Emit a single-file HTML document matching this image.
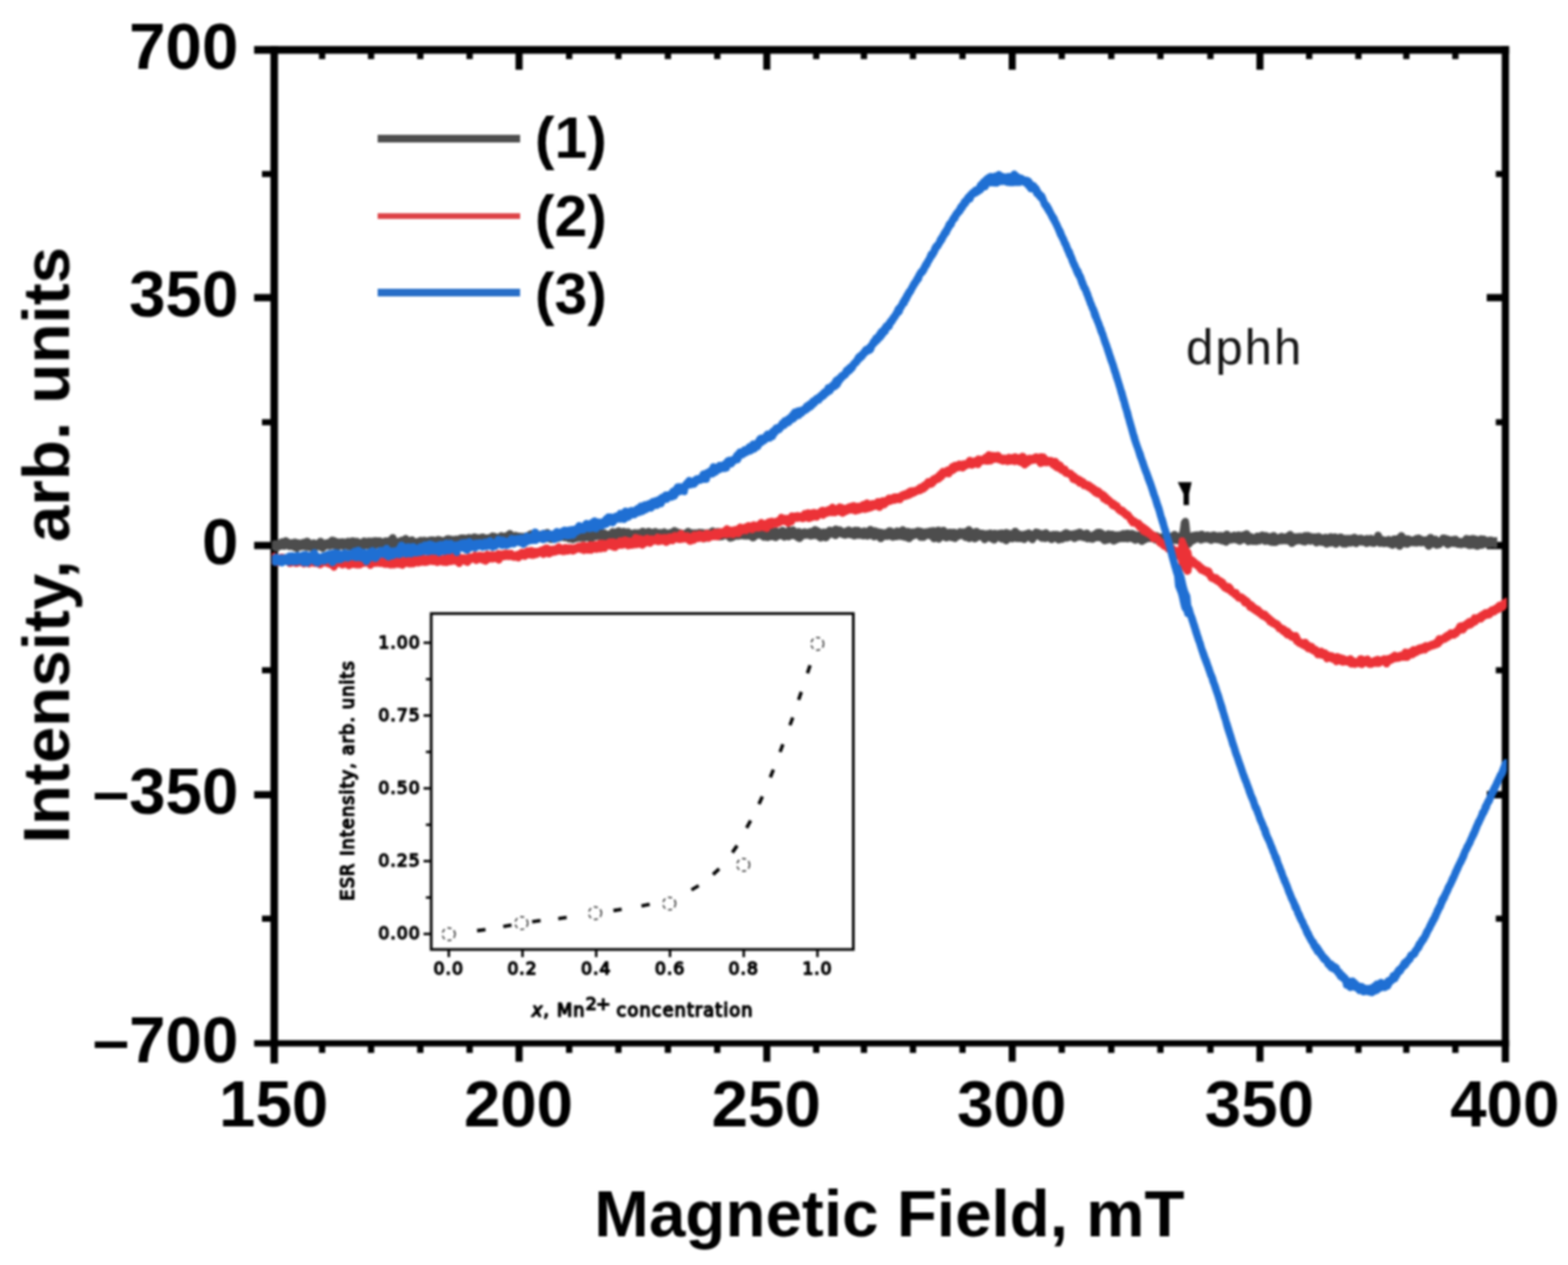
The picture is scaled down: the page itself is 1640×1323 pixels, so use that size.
<!DOCTYPE html>
<html lang="en">
<head>
<meta charset="utf-8">
<title>ESR spectra: Intensity vs Magnetic Field</title>
<style>
html,body{margin:0;padding:0;background:#fff;}
body{width:1640px;height:1323px;overflow:hidden;}
svg{display:block;}
</style>
</head>
<body>
<svg width="1640" height="1323" viewBox="0 0 1640 1323" role="img" aria-label="ESR spectra: intensity versus magnetic field">
<rect width="1640" height="1323" fill="#fff"/>
<defs><filter id="soft" x="0" y="0" width="1640" height="1323" filterUnits="userSpaceOnUse" color-interpolation-filters="sRGB"><feGaussianBlur stdDeviation="0.8"/></filter></defs>
<g filter="url(#soft)">
<g fill="#000">
<rect x="265.8" y="48.15" width="1312.5" height="8.1"/>
<rect x="265.8" y="1087.90" width="1312.5" height="6.6"/>
<rect x="282.85" y="48.2" width="7.9" height="1064.0"/>
<rect x="1570.70" y="48.2" width="7.6" height="1062.8"/>
<rect x="333.6" y="52.2" width="6.6" height="9.6"/>
<rect x="333.6" y="1091.2" width="6.6" height="10.0"/>
<rect x="384.8" y="52.2" width="6.6" height="9.6"/>
<rect x="384.8" y="1091.2" width="6.6" height="10.0"/>
<rect x="436.3" y="52.2" width="6.6" height="9.6"/>
<rect x="436.3" y="1091.2" width="6.6" height="10.0"/>
<rect x="487.9" y="52.2" width="6.6" height="9.6"/>
<rect x="487.9" y="1091.2" width="6.6" height="10.0"/>
<rect x="539.2" y="52.2" width="7.4" height="20.7"/>
<rect x="539.2" y="1091.2" width="7.4" height="19.2"/>
<rect x="592.0" y="52.2" width="6.6" height="9.6"/>
<rect x="592.0" y="1091.2" width="6.6" height="10.0"/>
<rect x="643.5" y="52.2" width="6.6" height="9.6"/>
<rect x="643.5" y="1091.2" width="6.6" height="10.0"/>
<rect x="695.3" y="52.2" width="6.6" height="9.6"/>
<rect x="695.3" y="1091.2" width="6.6" height="10.0"/>
<rect x="746.9" y="52.2" width="6.6" height="9.6"/>
<rect x="746.9" y="1091.2" width="6.6" height="10.0"/>
<rect x="798.3" y="52.2" width="7.4" height="20.7"/>
<rect x="798.3" y="1091.2" width="7.4" height="19.2"/>
<rect x="850.4" y="52.2" width="6.6" height="9.6"/>
<rect x="850.4" y="1091.2" width="6.6" height="10.0"/>
<rect x="900.3" y="52.2" width="6.6" height="9.6"/>
<rect x="900.3" y="1091.2" width="6.6" height="10.0"/>
<rect x="951.6" y="52.2" width="6.6" height="9.6"/>
<rect x="951.6" y="1091.2" width="6.6" height="10.0"/>
<rect x="1003.4" y="52.2" width="6.6" height="9.6"/>
<rect x="1003.4" y="1091.2" width="6.6" height="10.0"/>
<rect x="1055.0" y="52.2" width="7.4" height="20.7"/>
<rect x="1055.0" y="1091.2" width="7.4" height="19.2"/>
<rect x="1107.2" y="52.2" width="6.6" height="9.6"/>
<rect x="1107.2" y="1091.2" width="6.6" height="10.0"/>
<rect x="1159.0" y="52.2" width="6.6" height="9.6"/>
<rect x="1159.0" y="1091.2" width="6.6" height="10.0"/>
<rect x="1210.4" y="52.2" width="6.6" height="9.6"/>
<rect x="1210.4" y="1091.2" width="6.6" height="10.0"/>
<rect x="1262.7" y="52.2" width="6.6" height="9.6"/>
<rect x="1262.7" y="1091.2" width="6.6" height="10.0"/>
<rect x="1314.1" y="52.2" width="7.4" height="20.7"/>
<rect x="1314.1" y="1091.2" width="7.4" height="19.2"/>
<rect x="1366.0" y="52.2" width="6.6" height="9.6"/>
<rect x="1366.0" y="1091.2" width="6.6" height="10.0"/>
<rect x="1417.5" y="52.2" width="6.6" height="9.6"/>
<rect x="1417.5" y="1091.2" width="6.6" height="10.0"/>
<rect x="1467.6" y="52.2" width="6.6" height="9.6"/>
<rect x="1467.6" y="1091.2" width="6.6" height="10.0"/>
<rect x="1518.9" y="52.2" width="6.6" height="9.6"/>
<rect x="1518.9" y="1091.2" width="6.6" height="10.0"/>
<rect x="274.0" y="178.8" width="12.8" height="6.4"/>
<rect x="1564.5" y="178.8" width="10.0" height="6.4"/>
<rect x="265.8" y="307.5" width="21.0" height="7.6"/>
<rect x="1555.0" y="307.5" width="19.5" height="7.6"/>
<rect x="274.0" y="438.4" width="12.8" height="6.4"/>
<rect x="1564.5" y="438.4" width="10.0" height="6.4"/>
<rect x="265.8" y="566.7" width="21.0" height="7.6"/>
<rect x="1555.0" y="566.7" width="19.5" height="7.6"/>
<rect x="274.0" y="697.8" width="12.8" height="6.4"/>
<rect x="1564.5" y="697.8" width="10.0" height="6.4"/>
<rect x="265.8" y="827.4" width="21.0" height="7.6"/>
<rect x="1555.0" y="827.4" width="19.5" height="7.6"/>
<rect x="274.0" y="957.6" width="12.8" height="6.4"/>
<rect x="1564.5" y="957.6" width="10.0" height="6.4"/>
</g>
<g font-family="'Liberation Sans', sans-serif" font-weight="bold" font-size="68.5" fill="#000">
<text x="249.3" y="71.8" text-anchor="end">700</text>
<text x="249.3" y="330.9" text-anchor="end">350</text>
<text x="249.3" y="590.1" text-anchor="end">0</text>
<text x="249.3" y="850.8" text-anchor="end">–350</text>
<text x="249.3" y="1110.8" text-anchor="end">–700</text>
<text x="286.2" y="1177.8" text-anchor="middle">150</text>
<text x="542.3" y="1177.8" text-anchor="middle">200</text>
<text x="801.4" y="1177.8" text-anchor="middle">250</text>
<text x="1058.1" y="1177.8" text-anchor="middle">300</text>
<text x="1317.2" y="1177.8" text-anchor="middle">350</text>
<text x="1573.9" y="1177.8" text-anchor="middle">400</text>
<text x="930.3" y="1292.5" text-anchor="middle" font-size="68.6">Magnetic Field, mT</text>
<text transform="translate(72.2,570.2) rotate(-90)" text-anchor="middle" font-size="68.6">Intensity, arb. units</text>
<text x="559.5" y="165.4" font-size="61.5">(1)</text>
<text x="559.5" y="246.6" font-size="61.5">(2)</text>
<text x="559.5" y="327.8" font-size="61.5">(3)</text>
</g>
<text x="1240.6" y="380.6" font-family="'Liberation Sans', sans-serif" font-size="51.3" letter-spacing="2.1" fill="#141414">dphh</text>
<g shape-rendering="crispEdges">
<rect x="394.6" y="141.2" width="149.4" height="7.5" fill="#4d4d4d"/>
<rect x="394.6" y="222.6" width="149.4" height="6" fill="#dd4448"/>
<rect x="394.6" y="302.2" width="149.4" height="7.5" fill="#276ec8"/>
</g>
<rect x="451.0" y="641.7" width="441.5" height="351.29999999999995" fill="#fff" stroke="#000" stroke-width="2.8"/>
<g stroke="#000" stroke-width="2.6">
<line x1="469.4" y1="993.0" x2="469.4" y2="1001.0"/>
<line x1="546.5" y1="993.0" x2="546.5" y2="1001.0"/>
<line x1="623.6" y1="993.0" x2="623.6" y2="1001.0"/>
<line x1="700.8" y1="993.0" x2="700.8" y2="1001.0"/>
<line x1="777.9" y1="993.0" x2="777.9" y2="1001.0"/>
<line x1="855.0" y1="993.0" x2="855.0" y2="1001.0"/>
<line x1="443.0" y1="976.8" x2="451.0" y2="976.8"/>
<line x1="445.5" y1="938.7" x2="451.0" y2="938.7"/>
<line x1="443.0" y1="900.6" x2="451.0" y2="900.6"/>
<line x1="445.5" y1="862.6" x2="451.0" y2="862.6"/>
<line x1="443.0" y1="824.5" x2="451.0" y2="824.5"/>
<line x1="445.5" y1="786.4" x2="451.0" y2="786.4"/>
<line x1="443.0" y1="748.3" x2="451.0" y2="748.3"/>
<line x1="445.5" y1="710.3" x2="451.0" y2="710.3"/>
<line x1="443.0" y1="672.2" x2="451.0" y2="672.2"/>
</g>
<g font-family="'DejaVu Sans', sans-serif" font-size="18.0" fill="#000" stroke="#000" stroke-width="1.5" stroke-linejoin="round" letter-spacing="1.0">
<text x="469.4" y="1019.2" text-anchor="middle">0.0</text>
<text x="546.5" y="1019.2" text-anchor="middle">0.2</text>
<text x="623.6" y="1019.2" text-anchor="middle">0.4</text>
<text x="700.8" y="1019.2" text-anchor="middle">0.6</text>
<text x="777.9" y="1019.2" text-anchor="middle">0.8</text>
<text x="855.0" y="1019.2" text-anchor="middle">1.0</text>
<text x="439.9" y="982.1" text-anchor="end">0.00</text>
<text x="439.9" y="905.9" text-anchor="end">0.25</text>
<text x="439.9" y="829.8" text-anchor="end">0.50</text>
<text x="439.9" y="753.6" text-anchor="end">0.75</text>
<text x="439.9" y="677.5" text-anchor="end">1.00</text>
<text x="672.2" y="1063.4" text-anchor="middle" font-size="18.6" letter-spacing="1.12"><tspan font-style="italic">x</tspan>, Mn<tspan dy="-7.4" font-size="18.4" letter-spacing="-0.9">2+</tspan><tspan dy="7.4"> concentration</tspan></text>
<text transform="translate(370.0,816.2) rotate(-90)" text-anchor="middle" font-size="18.6" letter-spacing="1.12">ESR Intensity, arb. units</text>
</g>
<g stroke="#000" stroke-width="3.6" fill="none">
<line x1="499.0" y1="973.4" x2="507.8" y2="972.2"/>
<line x1="526.4" y1="969.1" x2="535.0" y2="967.5"/>
<line x1="556.6" y1="964.0" x2="565.4" y2="962.8"/>
<line x1="583.9" y1="960.7" x2="592.7" y2="959.5"/>
<line x1="641.6" y1="952.4" x2="650.2" y2="951.0"/>
<line x1="670.9" y1="947.6" x2="679.5" y2="945.8"/>
<line x1="723.2" y1="930.7" x2="730.8" y2="926.3"/>
<line x1="745.8" y1="914.6" x2="752.2" y2="908.6"/>
<line x1="766.0" y1="891.6" x2="771.0" y2="884.4"/>
<line x1="780.9" y1="865.9" x2="785.1" y2="858.1"/>
<line x1="793.8" y1="840.9" x2="797.4" y2="832.9"/>
<line x1="805.7" y1="813.0" x2="808.9" y2="804.8"/>
<line x1="815.9" y1="786.5" x2="818.9" y2="778.3"/>
<line x1="826.2" y1="758.5" x2="829.2" y2="750.3"/>
<line x1="835.3" y1="732.0" x2="838.1" y2="723.6"/>
<line x1="844.5" y1="704.1" x2="847.3" y2="695.7"/>
</g>
<g stroke="#333" stroke-width="1.5" fill="none" stroke-dasharray="4.2 3.2">
<circle cx="469.3" cy="977" r="6.6"/>
<circle cx="545.4" cy="965.4" r="6.6"/>
<circle cx="622.4" cy="955" r="6.6"/>
<circle cx="700" cy="945" r="6.6"/>
<circle cx="777.4" cy="904.5" r="6.6"/>
<circle cx="854.9" cy="673.3" r="6.6"/>
</g>
<clipPath id="plotclip"><rect x="284.3" y="52.2" width="1292.3" height="1039.0"/></clipPath>
<g stroke="none" clip-path="url(#plotclip)">
<path fill="#4d4d4d" d="M283,567.3 284,566.6 285,565.7 286,565.2 287,565.0 288,565.0 289,565.1 290,565.2 291,564.7 292,564.1 293,563.4 294,563.1 295,563.0 296,562.9 297,562.2 298,561.9 299,561.8 300,562.0 301,562.5 302,563.3 303,563.8 304,564.3 305,564.1 306,563.7 307,563.4 308,563.2 309,563.3 310,563.6 311,564.0 312,564.0 313,564.3 314,564.5 315,564.3 316,563.8 317,563.6 318,563.6 319,563.0 320,562.5 321,562.3 322,562.4 323,562.7 324,563.3 325,564.6 326,564.8 327,564.3 328,564.1 329,564.2 330,564.5 331,564.9 332,564.1 333,563.1 334,562.6 335,562.4 336,562.5 337,562.8 338,563.4 339,564.5 340,564.4 341,564.1 342,564.0 343,563.8 344,562.9 345,561.9 346,561.4 347,561.2 348,561.3 349,561.5 350,561.7 351,562.1 352,562.8 353,563.0 354,563.3 355,563.2 356,563.3 357,563.1 358,562.9 359,562.9 360,563.2 361,563.6 362,562.9 363,562.5 364,562.5 365,562.6 366,562.8 367,562.3 368,562.0 369,561.9 370,562.1 371,562.5 372,562.6 373,562.4 374,562.4 375,562.7 376,563.4 377,563.9 378,563.2 379,562.5 380,562.2 381,562.1 382,562.3 383,562.7 384,562.6 385,562.2 386,562.2 387,562.3 388,562.5 389,562.3 390,562.3 391,561.9 392,561.7 393,561.7 394,562.0 395,562.0 396,561.9 397,561.9 398,562.0 399,562.5 400,563.0 401,562.7 402,562.2 403,562.0 404,562.1 405,562.3 406,561.9 407,560.9 408,559.7 409,559.0 410,558.7 411,558.6 412,558.8 413,559.2 414,560.1 415,562.5 416,562.7 417,562.4 418,561.7 419,561.4 420,561.3 421,561.2 422,560.3 423,559.8 424,559.6 425,559.6 426,559.9 427,560.6 428,561.9 429,561.3 430,561.0 431,560.9 432,561.1 433,561.6 434,562.5 435,563.3 436,562.8 437,562.4 438,562.1 439,561.6 440,561.4 441,561.5 442,561.7 443,561.4 444,561.3 445,561.5 446,561.9 447,562.0 448,561.5 449,561.3 450,561.3 451,561.0 452,560.9 453,561.1 454,561.3 455,561.6 456,561.2 457,560.8 458,560.6 459,560.6 460,560.9 461,561.1 462,561.4 463,561.8 464,561.8 465,560.9 466,560.2 467,559.9 468,559.7 469,559.7 470,559.8 471,560.3 472,560.3 473,560.6 474,560.7 475,560.4 476,560.2 477,560.2 478,560.3 479,560.3 480,559.6 481,559.2 482,559.1 483,559.1 484,559.0 485,558.9 486,559.1 487,559.6 488,559.2 489,558.7 490,558.5 491,558.5 492,558.8 493,559.1 494,558.5 495,558.0 496,557.8 497,557.9 498,558.2 499,558.6 500,558.8 501,559.0 502,558.5 503,558.3 504,558.0 505,557.9 506,558.1 507,558.5 508,559.0 509,559.1 510,559.1 511,558.6 512,558.4 513,557.5 514,557.0 515,556.8 516,556.9 517,557.2 518,557.3 519,557.8 520,558.3 521,558.2 522,557.3 523,556.8 524,556.6 525,556.6 526,556.9 527,557.3 528,556.9 529,556.8 530,556.0 531,555.0 532,554.5 533,554.3 534,554.4 535,554.7 536,555.3 537,556.7 538,556.5 539,556.3 540,556.3 541,556.7 542,557.0 543,557.1 544,557.2 545,557.2 546,557.3 547,557.5 548,557.6 549,557.1 550,556.9 551,556.4 552,556.0 553,555.2 554,554.7 555,554.5 556,554.5 557,554.8 558,555.5 559,556.2 560,556.0 561,555.9 562,555.4 563,555.2 564,555.2 565,555.6 566,555.3 567,554.8 568,554.6 569,554.6 570,553.9 571,553.4 572,553.2 573,553.3 574,553.6 575,554.2 576,555.5 577,555.4 578,555.2 579,555.2 580,555.5 581,555.5 582,555.6 583,555.4 584,554.7 585,554.4 586,554.3 587,554.0 588,553.3 589,553.0 590,552.9 591,552.8 592,552.3 593,552.1 594,552.1 595,552.4 596,553.1 597,554.4 598,555.8 599,556.0 600,556.0 601,555.3 602,554.9 603,554.7 604,554.2 605,554.0 606,554.1 607,554.4 608,554.4 609,554.7 610,555.4 611,555.2 612,555.2 613,554.9 614,554.7 615,554.7 616,554.5 617,554.6 618,554.9 619,554.6 620,554.0 621,553.3 622,553.0 623,552.9 624,553.1 625,553.5 626,554.1 627,553.9 628,553.8 629,553.9 630,553.9 631,553.6 632,553.5 633,553.7 634,554.1 635,555.0 636,554.9 637,554.9 638,553.4 639,552.8 640,552.4 641,552.3 642,552.5 643,553.0 644,552.6 645,551.9 646,551.5 647,551.5 648,551.6 649,552.1 650,552.4 651,552.3 652,552.1 653,552.1 654,552.4 655,552.8 656,552.5 657,552.4 658,552.6 659,553.0 660,553.9 661,554.3 662,553.8 663,553.5 664,553.4 665,553.6 666,553.8 667,553.6 668,553.6 669,553.5 670,552.6 671,552.1 672,551.9 673,551.9 674,552.2 675,552.9 676,552.7 677,552.2 678,552.0 679,552.0 680,552.3 681,553.0 682,553.0 683,552.9 684,552.4 685,552.2 686,552.3 687,552.6 688,553.2 689,553.6 690,553.3 691,553.2 692,553.4 693,553.0 694,552.6 695,552.6 696,552.7 697,553.2 698,554.1 699,553.7 700,553.5 701,553.2 702,552.9 703,552.0 704,551.5 705,551.3 706,551.3 707,551.6 708,552.2 709,552.4 710,552.9 711,553.6 712,553.5 713,553.7 714,554.2 715,554.2 716,554.2 717,553.1 718,552.4 719,552.1 720,552.0 721,552.2 722,552.7 723,553.4 724,553.4 725,553.7 726,553.7 727,553.6 728,553.8 729,553.8 730,553.3 731,553.1 732,553.1 733,553.3 734,553.3 735,553.3 736,553.5 737,553.8 738,553.9 739,553.6 740,553.5 741,553.7 742,553.2 743,552.2 744,551.8 745,551.6 746,551.6 747,551.9 748,552.6 749,552.4 750,552.2 751,552.3 752,552.6 753,552.9 754,552.9 755,553.2 756,553.7 757,553.7 758,553.6 759,553.5 760,553.3 761,553.4 762,553.7 763,553.7 764,552.9 765,552.2 766,551.8 767,551.8 768,551.9 769,551.9 770,551.3 771,550.9 772,550.8 773,551.0 774,551.5 775,552.1 776,551.9 777,551.9 778,552.2 779,552.9 780,554.1 781,553.6 782,553.1 783,552.9 784,553.0 785,553.3 786,553.4 787,553.7 788,553.8 789,553.5 790,552.6 791,551.7 792,551.2 793,551.0 794,551.1 795,551.4 796,551.7 797,551.4 798,551.4 799,551.5 800,552.0 801,552.8 802,553.1 803,553.1 804,552.5 805,551.6 806,551.1 807,550.9 808,550.9 809,551.2 810,551.7 811,551.7 812,552.0 813,552.1 814,552.4 815,552.6 816,551.7 817,551.2 818,551.0 819,551.0 820,551.3 821,552.0 822,552.5 823,551.5 824,551.0 825,550.8 826,550.9 827,551.2 828,550.7 829,550.5 830,550.5 831,550.8 832,551.5 833,552.8 834,552.5 835,552.3 836,552.3 837,552.6 838,553.3 839,553.2 840,552.7 841,552.5 842,552.5 843,552.8 844,553.3 845,552.9 846,552.4 847,552.2 848,552.2 849,551.9 850,550.9 851,550.4 852,550.2 853,550.3 854,550.6 855,551.1 856,551.6 857,551.9 858,552.6 859,553.4 860,552.9 861,552.7 862,552.7 863,552.9 864,552.9 865,551.8 866,551.2 867,550.8 868,550.7 869,550.9 870,551.4 871,550.9 872,550.3 873,549.8 874,549.6 875,549.7 876,550.0 877,550.6 878,550.4 879,550.5 880,550.8 881,551.4 882,552.3 883,552.5 884,551.8 885,551.5 886,551.0 887,550.6 888,550.6 889,550.7 890,551.2 891,551.9 892,551.6 893,551.1 894,550.9 895,550.8 896,550.9 897,550.9 898,550.9 899,551.2 900,551.9 901,552.5 902,552.0 903,551.7 904,551.6 905,551.8 906,552.2 907,551.7 908,550.7 909,550.2 910,550.0 911,550.1 912,550.4 913,551.0 914,551.6 915,551.4 916,551.5 917,551.8 918,552.4 919,552.5 920,552.8 921,553.1 922,553.0 923,553.2 924,553.7 925,553.6 926,553.5 927,553.0 928,552.1 929,551.6 930,551.4 931,551.4 932,551.5 933,551.9 934,552.5 935,553.3 936,552.3 937,551.8 938,551.6 939,551.7 940,552.0 941,552.0 942,551.0 943,550.5 944,550.3 945,550.4 946,550.7 947,551.3 948,552.4 949,552.1 950,552.0 951,552.2 952,552.7 953,552.7 954,552.7 955,552.8 956,552.7 957,552.5 958,552.1 959,551.6 960,551.4 961,551.4 962,551.7 963,552.0 964,552.1 965,552.4 966,553.0 967,552.8 968,552.5 969,552.4 970,552.5 971,552.0 972,551.8 973,551.8 974,551.6 975,551.5 976,551.3 977,551.3 978,551.7 979,551.4 980,550.9 981,550.7 982,550.8 983,551.1 984,551.7 985,551.3 986,551.0 987,550.9 988,551.1 989,551.6 990,552.5 991,553.6 992,553.1 993,552.9 994,552.9 995,552.9 996,553.2 997,553.0 998,552.9 999,553.1 1000,553.6 1001,554.0 1002,553.0 1003,552.5 1004,552.3 1005,552.4 1006,552.7 1007,552.7 1008,552.6 1009,552.8 1010,551.9 1011,550.9 1012,550.4 1013,550.2 1014,550.3 1015,550.6 1016,551.2 1017,552.5 1018,553.0 1019,552.8 1020,552.3 1021,552.1 1022,552.1 1023,552.4 1024,553.1 1025,553.7 1026,554.1 1027,554.1 1028,554.0 1029,554.2 1030,554.7 1031,554.6 1032,554.5 1033,554.4 1034,554.2 1035,553.8 1036,553.8 1037,553.9 1038,554.4 1039,554.2 1040,554.0 1041,554.1 1042,554.4 1043,554.4 1044,554.2 1045,554.2 1046,554.0 1047,553.8 1048,553.8 1049,554.1 1050,553.9 1051,553.6 1052,553.3 1053,553.2 1054,553.4 1055,553.9 1056,554.2 1057,554.5 1058,554.5 1059,553.0 1060,552.3 1061,552.0 1062,551.9 1063,552.1 1064,552.6 1065,553.5 1066,554.5 1067,555.0 1068,555.2 1069,555.5 1070,555.4 1071,554.9 1072,554.7 1073,554.7 1074,554.0 1075,553.7 1076,553.6 1077,553.8 1078,554.2 1079,555.1 1080,555.2 1081,553.8 1082,553.1 1083,552.8 1084,552.7 1085,552.9 1086,553.2 1087,553.4 1088,553.9 1089,554.5 1090,554.6 1091,554.6 1092,553.9 1093,553.5 1094,553.5 1095,553.6 1096,554.1 1097,555.0 1098,555.7 1099,556.0 1100,555.6 1101,555.3 1102,555.2 1103,555.2 1104,555.3 1105,555.3 1106,555.2 1107,555.4 1108,555.9 1109,555.9 1110,556.0 1111,555.0 1112,554.5 1113,554.1 1114,553.6 1115,553.4 1116,553.4 1117,553.7 1118,554.4 1119,554.7 1120,554.9 1121,554.9 1122,554.7 1123,554.5 1124,554.5 1125,554.0 1126,553.8 1127,553.5 1128,553.0 1129,552.8 1130,552.9 1131,553.2 1132,553.8 1133,554.5 1134,554.8 1135,554.2 1136,553.8 1137,553.8 1138,553.9 1139,554.4 1140,555.3 1141,556.8 1142,556.0 1143,555.5 1144,555.1 1145,554.2 1146,553.5 1147,553.2 1148,553.1 1149,553.1 1150,552.9 1151,552.9 1152,553.2 1153,553.9 1154,554.3 1155,554.9 1156,556.0 1157,555.2 1158,554.7 1159,554.5 1160,554.6 1161,554.9 1162,555.0 1163,554.9 1164,555.0 1165,555.3 1166,555.9 1167,555.8 1168,555.7 1169,555.9 1170,555.7 1171,555.5 1172,555.4 1173,554.8 1174,554.4 1175,554.3 1176,554.5 1177,554.6 1178,554.1 1179,553.9 1180,553.9 1181,554.2 1182,554.6 1183,554.2 1184,554.2 1185,554.3 1186,554.8 1187,555.3 1188,555.5 1189,556.0 1190,556.1 1191,556.0 1192,556.0 1193,556.2 1194,556.6 1195,556.6 1196,556.4 1197,556.5 1198,555.8 1199,555.1 1200,554.7 1201,554.7 1202,554.8 1203,555.3 1204,555.7 1205,555.5 1206,555.6 1207,555.9 1208,556.5 1209,556.7 1210,556.6 1211,556.8 1212,557.2 1213,558.1 1214,558.2 1215,557.7 1216,557.5 1217,557.5 1218,557.3 1219,556.8 1220,556.6 1221,556.7 1222,557.0 1223,557.5 1224,557.6 1225,556.9 1226,556.0 1227,555.5 1228,555.3 1229,555.3 1230,555.6 1231,556.3 1232,557.1 1233,557.4 1234,554.1 1235,546.1 1236,544.1 1237,542.7 1238,542.0 1239,541.7 1240,541.6 1241,541.8 1242,542.2 1243,543.1 1244,546.9 1245,557.3 1246,556.8 1247,556.4 1248,556.2 1249,556.2 1250,556.0 1251,555.8 1252,555.7 1253,555.7 1254,556.0 1255,555.3 1256,554.9 1257,554.9 1258,555.0 1259,555.5 1260,556.4 1261,556.3 1262,556.0 1263,555.9 1264,556.1 1265,556.6 1266,556.7 1267,556.3 1268,556.1 1269,555.8 1270,555.7 1271,555.9 1272,556.3 1273,556.9 1274,556.6 1275,556.4 1276,556.4 1277,556.4 1278,556.6 1279,556.8 1280,556.4 1281,555.6 1282,555.1 1283,554.9 1284,554.9 1285,555.2 1286,555.9 1287,557.2 1288,556.9 1289,556.4 1290,556.1 1291,556.0 1292,556.2 1293,556.5 1294,556.0 1295,555.8 1296,555.8 1297,556.1 1298,556.4 1299,555.9 1300,555.7 1301,555.6 1302,554.9 1303,554.6 1304,554.5 1305,554.7 1306,555.1 1307,556.0 1308,557.4 1309,557.6 1310,558.0 1311,558.6 1312,558.5 1313,557.6 1314,557.1 1315,556.9 1316,557.0 1317,557.3 1318,556.5 1319,556.0 1320,555.8 1321,555.9 1322,556.2 1323,556.5 1324,556.5 1325,556.6 1326,557.1 1327,557.4 1328,557.7 1329,557.6 1330,557.1 1331,556.6 1332,556.4 1333,556.4 1334,556.7 1335,557.4 1336,558.7 1337,558.4 1338,557.9 1339,557.4 1340,557.2 1341,557.2 1342,557.5 1343,557.9 1344,557.9 1345,557.4 1346,556.9 1347,555.9 1348,555.4 1349,555.2 1350,555.3 1351,555.6 1352,556.2 1353,557.6 1354,557.8 1355,557.7 1356,557.7 1357,557.7 1358,557.6 1359,557.5 1360,557.3 1361,557.4 1362,557.7 1363,557.1 1364,556.6 1365,556.4 1366,556.4 1367,556.4 1368,556.3 1369,556.5 1370,557.0 1371,557.3 1372,557.8 1373,557.7 1374,557.9 1375,557.8 1376,558.0 1377,557.7 1378,557.5 1379,557.3 1380,557.4 1381,557.7 1382,558.3 1383,559.3 1384,558.8 1385,558.4 1386,558.2 1387,558.3 1388,558.6 1389,558.7 1390,558.0 1391,557.7 1392,557.6 1393,557.8 1394,558.2 1395,558.0 1396,557.8 1397,557.8 1398,558.2 1399,558.8 1400,558.6 1401,558.1 1402,557.9 1403,558.0 1404,558.3 1405,558.9 1406,559.5 1407,559.6 1408,559.6 1409,559.5 1410,559.4 1411,559.6 1412,559.5 1413,559.3 1414,559.3 1415,558.6 1416,558.3 1417,558.2 1418,558.4 1419,558.9 1420,559.7 1421,559.5 1422,559.4 1423,559.2 1424,559.3 1425,559.6 1426,560.2 1427,560.3 1428,560.0 1429,559.6 1430,559.5 1431,559.7 1432,559.7 1433,559.4 1434,559.3 1435,559.5 1436,560.0 1437,560.6 1438,557.7 1439,556.8 1440,556.3 1441,556.1 1442,556.1 1443,556.4 1444,557.1 1445,558.4 1446,560.8 1447,560.7 1448,560.9 1449,561.4 1450,561.2 1451,560.7 1452,560.5 1453,560.5 1454,560.8 1455,561.4 1456,560.6 1457,560.1 1458,559.9 1459,559.9 1460,560.0 1461,559.8 1462,559.1 1463,557.6 1464,556.9 1465,556.6 1466,556.5 1467,556.7 1468,557.2 1469,558.1 1470,560.0 1471,559.8 1472,559.8 1473,560.0 1474,560.1 1475,560.4 1476,560.9 1477,561.0 1478,561.2 1479,560.3 1480,559.8 1481,559.6 1482,559.5 1483,559.1 1484,559.1 1485,559.2 1486,559.7 1487,560.3 1488,560.8 1489,561.3 1490,561.1 1491,560.9 1492,560.9 1493,560.1 1494,559.1 1495,558.6 1496,558.4 1497,558.5 1498,558.8 1499,559.4 1500,560.4 1501,560.2 1502,560.2 1503,560.5 1504,561.2 1505,562.5 1506,560.7 1507,559.7 1508,559.2 1509,559.0 1510,559.1 1511,559.1 1512,559.4 1513,559.6 1514,560.1 1515,560.3 1516,560.5 1517,560.9 1518,561.0 1519,560.7 1520,560.6 1521,560.4 1522,560.2 1523,560.3 1524,560.6 1525,561.2 1526,562.5 1527,562.5 1528,562.6 1529,562.9 1530,562.1 1531,560.6 1532,559.9 1533,559.6 1534,559.5 1535,559.7 1536,560.1 1537,560.2 1538,560.1 1539,559.7 1540,559.5 1541,559.5 1542,559.8 1543,559.9 1544,560.2 1545,560.6 1546,561.1 1547,560.5 1548,560.0 1549,559.8 1550,559.9 1551,560.2 1552,560.1 1553,560.3 1554,560.7 1555,561.6 1556,561.5 1557,561.6 1558,561.3 1559,561.1 1560,561.2 1561,561.5 1562,561.7 1563,561.9 1564,562.1 1565,561.8 1566,561.7 L1566,572.4 1565,572.9 1564,573.0 1563,573.0 1562,572.8 1561,572.6 1560,572.5 1559,573.0 1558,573.2 1557,573.1 1556,572.8 1555,572.8 1554,572.9 1553,572.7 1552,573.4 1551,573.8 1550,574.0 1549,573.9 1548,574.1 1547,574.7 1546,575.0 1545,575.1 1544,574.9 1543,574.4 1542,574.2 1541,573.7 1540,574.0 1539,574.1 1538,574.2 1537,574.3 1536,574.3 1535,573.9 1534,573.3 1533,573.1 1532,572.8 1531,572.8 1530,572.9 1529,573.2 1528,573.4 1527,573.3 1526,573.0 1525,573.0 1524,572.9 1523,572.6 1522,572.1 1521,572.2 1520,572.1 1519,571.8 1518,572.0 1517,572.4 1516,573.1 1515,573.4 1514,573.4 1513,573.2 1512,572.7 1511,571.9 1510,570.7 1509,571.1 1508,572.4 1507,573.0 1506,573.3 1505,573.4 1504,573.8 1503,574.0 1502,573.9 1501,573.5 1500,572.9 1499,572.5 1498,572.7 1497,573.9 1496,574.6 1495,574.9 1494,574.9 1493,574.7 1492,574.2 1491,573.3 1490,571.4 1489,571.3 1488,571.1 1487,571.4 1486,571.5 1485,571.3 1484,571.1 1483,571.5 1482,571.7 1481,571.6 1480,571.4 1479,571.4 1478,571.2 1477,571.3 1476,571.2 1475,571.4 1474,572.3 1473,572.7 1472,572.9 1471,572.8 1470,572.5 1469,572.4 1468,572.0 1467,573.5 1466,574.4 1465,574.9 1464,575.0 1463,575.0 1462,574.6 1461,573.9 1460,572.5 1459,573.0 1458,573.7 1457,574.0 1456,574.0 1455,573.8 1454,573.3 1453,572.4 1452,572.4 1451,572.0 1450,571.7 1449,572.0 1448,572.2 1447,572.3 1446,572.1 1445,571.6 1444,572.0 1443,572.0 1442,571.8 1441,571.3 1440,570.6 1439,571.5 1438,572.0 1437,572.1 1436,572.1 1435,571.7 1434,571.4 1433,571.2 1432,571.2 1431,571.8 1430,572.1 1429,572.2 1428,572.0 1427,571.5 1426,570.6 1425,570.8 1424,570.7 1423,570.4 1422,570.3 1421,571.3 1420,571.9 1419,572.2 1418,572.3 1417,572.1 1416,571.6 1415,571.1 1414,571.6 1413,571.7 1412,571.7 1411,571.4 1410,571.8 1409,572.4 1408,572.8 1407,572.8 1406,572.6 1405,572.7 1404,572.6 1403,572.3 1402,571.6 1401,570.6 1400,571.9 1399,572.5 1398,572.8 1397,572.9 1396,572.7 1395,572.2 1394,571.2 1393,571.5 1392,571.8 1391,571.8 1390,571.7 1389,572.4 1388,572.7 1387,572.7 1386,572.5 1385,572.0 1384,571.1 1383,570.8 1382,570.9 1381,570.7 1380,570.2 1379,570.9 1378,571.3 1377,571.5 1376,571.4 1375,571.1 1374,570.4 1373,568.9 1372,569.4 1371,569.7 1370,569.8 1369,569.6 1368,569.1 1367,570.0 1366,570.5 1365,570.6 1364,570.6 1363,570.2 1362,570.1 1361,569.7 1360,569.3 1359,569.2 1358,568.9 1357,569.5 1356,569.8 1355,569.9 1354,571.1 1353,571.7 1352,572.0 1351,572.1 1350,571.9 1349,571.4 1348,570.4 1347,569.4 1346,569.2 1345,569.3 1344,569.2 1343,569.0 1342,569.2 1341,569.3 1340,569.4 1339,569.3 1338,569.6 1337,570.0 1336,570.4 1335,570.9 1334,571.1 1333,571.0 1332,570.9 1331,571.0 1330,570.8 1329,570.8 1328,570.6 1327,570.1 1326,569.8 1325,569.5 1324,569.8 1323,569.9 1322,569.7 1321,569.2 1320,568.2 1319,568.9 1318,569.4 1317,569.6 1316,569.6 1315,570.0 1314,570.2 1313,570.1 1312,569.8 1311,570.0 1310,570.0 1309,569.8 1308,569.6 1307,570.1 1306,570.3 1305,570.2 1304,569.9 1303,569.2 1302,568.1 1301,568.1 1300,568.3 1299,569.1 1298,569.6 1297,569.8 1296,569.7 1295,569.4 1294,568.7 1293,568.6 1292,568.3 1291,567.8 1290,567.9 1289,568.3 1288,568.5 1287,568.4 1286,568.5 1285,569.8 1284,570.5 1283,570.8 1282,570.8 1281,570.6 1280,570.1 1279,569.6 1278,569.5 1277,569.2 1276,568.7 1275,568.6 1274,568.3 1273,567.9 1272,568.0 1271,568.0 1270,567.6 1269,568.2 1268,568.7 1267,568.9 1266,568.8 1265,568.5 1264,568.1 1263,567.6 1262,567.3 1261,567.6 1260,567.6 1259,567.6 1258,568.3 1257,568.6 1256,568.6 1255,568.4 1254,567.9 1253,567.0 1252,567.4 1251,568.1 1250,568.6 1249,569.0 1248,569.4 1247,570.6 1246,571.9 1245,572.6 1244,572.9 1243,573.0 1242,572.8 1241,572.3 1240,571.3 1239,566.6 1238,567.5 1237,567.9 1236,568.1 1235,568.0 1234,568.4 1233,568.7 1232,569.0 1231,569.2 1230,569.1 1229,568.8 1228,568.4 1227,569.3 1226,569.8 1225,569.9 1224,569.9 1223,570.4 1222,570.5 1221,570.5 1220,570.1 1219,570.1 1218,569.9 1217,569.4 1216,569.1 1215,568.8 1214,568.1 1213,568.1 1212,568.1 1211,568.0 1210,568.5 1209,568.6 1208,568.6 1207,568.2 1206,567.6 1205,566.9 1204,567.1 1203,567.0 1202,566.7 1201,566.9 1200,567.3 1199,568.0 1198,568.3 1197,568.9 1196,569.6 1195,569.9 1194,569.9 1193,569.7 1192,569.2 1191,568.3 1190,567.8 1189,568.4 1188,568.7 1187,568.8 1186,568.6 1185,568.1 1184,567.3 1183,567.1 1182,566.6 1181,567.1 1180,567.3 1179,567.2 1178,567.0 1177,567.0 1176,566.9 1175,566.9 1174,567.1 1173,567.0 1172,567.0 1171,567.3 1170,567.5 1169,568.1 1168,568.5 1167,569.0 1166,569.4 1165,569.6 1164,569.5 1163,569.2 1162,568.5 1161,567.5 1160,568.2 1159,568.5 1158,568.5 1157,568.9 1156,569.2 1155,569.2 1154,569.0 1153,568.5 1152,567.6 1151,566.4 1150,566.1 1149,566.1 1148,566.0 1147,566.0 1146,566.3 1145,567.1 1144,567.5 1143,567.7 1142,567.6 1141,567.4 1140,567.2 1139,567.0 1138,567.3 1137,567.3 1136,567.1 1135,566.6 1134,566.1 1133,566.1 1132,565.7 1131,565.2 1130,565.3 1129,565.3 1128,565.2 1127,565.8 1126,566.3 1125,566.8 1124,566.9 1123,566.9 1122,566.5 1121,565.8 1120,565.3 1119,565.6 1118,565.9 1117,566.3 1116,566.5 1115,566.4 1114,566.3 1113,567.2 1112,567.6 1111,567.8 1110,567.7 1109,568.1 1108,568.4 1107,568.5 1106,568.3 1105,567.8 1104,566.8 1103,566.5 1102,567.4 1101,567.9 1100,568.0 1099,568.0 1098,567.6 1097,566.9 1096,565.9 1095,566.6 1094,566.9 1093,566.9 1092,566.7 1091,566.5 1090,566.7 1089,566.6 1088,566.3 1087,565.6 1086,564.9 1085,564.1 1084,564.7 1083,566.6 1082,567.5 1081,568.0 1080,568.2 1079,568.1 1078,567.8 1077,567.1 1076,566.0 1075,565.6 1074,567.0 1073,567.6 1072,567.9 1071,568.0 1070,567.8 1069,567.3 1068,566.9 1067,567.0 1066,567.0 1065,566.8 1064,567.0 1063,566.9 1062,566.6 1061,566.6 1060,567.1 1059,567.2 1058,567.2 1057,566.8 1056,567.0 1055,568.3 1054,568.9 1053,569.2 1052,569.3 1051,569.1 1050,568.6 1049,567.6 1048,567.5 1047,567.4 1046,567.0 1045,566.4 1044,565.5 1043,567.0 1042,567.9 1041,568.3 1040,568.5 1039,568.4 1038,568.1 1037,567.4 1036,566.9 1035,566.5 1034,566.0 1033,566.6 1032,567.5 1031,568.0 1030,568.2 1029,568.1 1028,567.8 1027,567.1 1026,565.6 1025,564.7 1024,565.3 1023,565.7 1022,566.6 1021,567.1 1020,567.3 1019,567.2 1018,566.9 1017,566.2 1016,566.3 1015,566.8 1014,567.0 1013,566.9 1012,566.6 1011,565.9 1010,565.8 1009,565.7 1008,565.3 1007,564.7 1006,563.6 1005,563.8 1004,564.3 1003,564.4 1002,565.3 1001,566.2 1000,566.7 999,566.9 998,566.8 997,566.5 996,566.0 995,566.0 994,565.8 993,565.3 992,565.7 991,566.2 990,566.3 989,566.3 988,565.9 987,565.2 986,564.8 985,566.0 984,566.9 983,567.4 982,567.5 981,567.5 980,567.1 979,566.5 978,567.0 977,567.2 976,567.1 975,566.8 974,566.1 973,564.6 972,563.7 971,563.8 970,563.6 969,564.3 968,565.2 967,565.6 966,565.8 965,565.7 964,565.5 963,565.7 962,565.6 961,565.3 960,564.6 959,563.1 958,563.2 957,563.8 956,564.1 955,564.5 954,565.6 953,566.5 952,566.9 951,567.1 950,567.0 949,566.7 948,566.0 947,565.8 946,565.5 945,565.4 944,565.1 943,564.7 942,564.8 941,564.6 940,564.4 939,564.8 938,565.0 937,564.9 936,565.0 935,565.5 934,565.6 933,565.6 932,565.2 931,564.5 930,564.2 929,564.6 928,564.7 927,564.7 926,564.5 925,564.7 924,566.1 923,566.7 922,567.0 921,567.1 920,566.9 919,566.4 918,565.4 917,564.2 916,564.8 915,565.1 914,565.2 913,565.0 912,564.5 911,563.6 910,563.8 909,564.0 908,564.3 907,564.4 906,564.2 905,563.7 904,564.0 903,564.2 902,564.1 901,563.8 900,563.5 899,563.4 898,563.4 897,563.6 896,563.6 895,564.0 894,564.3 893,564.3 892,564.1 891,563.6 890,562.9 889,562.9 888,562.7 887,562.6 886,562.9 885,563.3 884,563.4 883,563.4 882,563.1 881,562.8 880,562.4 879,562.1 878,561.5 877,562.4 876,563.3 875,563.7 874,563.9 873,563.8 872,563.5 871,562.8 870,562.3 869,562.5 868,563.2 867,564.7 866,565.6 865,566.1 864,566.2 863,566.2 862,565.8 861,565.4 860,566.0 859,566.3 858,566.4 857,566.2 856,565.7 855,564.8 854,564.3 853,563.5 852,563.8 851,563.9 850,563.8 849,564.2 848,564.4 847,564.3 846,564.0 845,563.3 844,563.6 843,563.6 842,563.4 841,563.8 840,564.5 839,565.9 838,566.5 837,566.8 836,566.9 835,566.7 834,566.2 833,565.8 832,565.2 831,564.2 830,563.7 829,563.9 828,563.8 827,564.5 826,565.0 825,565.2 824,565.1 823,564.7 822,565.1 821,565.4 820,565.4 819,565.2 818,564.7 817,563.8 816,564.0 815,563.9 814,564.9 813,565.6 812,565.9 811,565.9 810,565.7 809,565.2 808,564.9 807,565.1 806,565.0 805,565.2 804,565.7 803,565.9 802,565.8 801,565.5 800,565.4 799,565.5 798,565.5 797,565.1 796,564.4 795,563.3 794,563.5 793,563.4 792,563.6 791,564.9 790,565.5 789,565.9 788,566.2 787,566.3 786,566.1 785,565.6 784,564.6 783,564.2 782,564.2 781,564.4 780,564.3 779,564.2 778,564.2 777,564.2 776,563.8 775,563.9 774,564.2 773,564.3 772,564.5 771,564.5 770,564.3 769,564.7 768,565.4 767,565.7 766,565.9 765,566.4 764,566.6 763,566.5 762,566.2 761,565.5 760,564.3 759,563.8 758,563.9 757,564.4 756,564.9 755,565.0 754,565.0 753,565.3 752,565.3 751,565.1 750,564.6 749,564.5 748,564.3 747,564.5 746,564.7 745,564.6 744,564.5 743,565.1 742,565.4 741,566.0 740,566.3 739,566.3 738,566.8 737,567.1 736,567.2 735,567.0 734,566.5 733,565.5 732,564.3 731,564.1 730,564.1 729,565.4 728,566.0 727,566.3 726,566.5 725,566.8 724,566.9 723,566.7 722,566.2 721,565.3 720,565.2 719,566.1 718,566.8 717,567.1 716,567.1 715,566.9 714,566.4 713,565.9 712,565.9 711,565.5 710,564.8 709,564.5 708,564.4 707,564.1 706,563.4 705,563.0 704,563.9 703,566.2 702,567.1 701,567.6 700,567.8 699,567.7 698,567.3 697,566.7 696,565.2 695,565.7 694,566.0 693,566.0 692,565.8 691,565.3 690,565.4 689,565.6 688,565.5 687,565.1 686,564.8 685,564.7 684,565.0 683,565.6 682,565.9 681,566.0 680,565.8 679,565.3 678,564.4 677,565.2 676,565.6 675,565.8 674,565.7 673,565.4 672,565.3 671,565.6 670,565.7 669,565.7 668,565.6 667,566.5 666,567.0 665,567.2 664,567.1 663,566.8 662,566.1 661,565.5 660,566.1 659,566.4 658,566.4 657,566.2 656,565.9 655,565.2 654,563.8 653,563.9 652,565.0 651,565.9 650,566.3 649,566.5 648,566.4 647,566.1 646,565.4 645,564.8 644,564.6 643,564.7 642,565.6 641,566.5 640,567.0 639,567.2 638,567.1 637,566.7 636,567.0 635,567.6 634,568.0 633,568.0 632,567.8 631,567.3 630,566.3 629,565.7 628,565.7 627,565.3 626,564.6 625,564.7 624,564.9 623,564.8 622,565.4 621,566.1 620,566.7 619,567.1 618,567.3 617,567.2 616,566.9 615,566.2 614,565.7 613,566.0 612,566.4 611,566.6 610,566.6 609,566.5 608,566.6 607,566.5 606,566.2 605,566.4 604,566.5 603,566.9 602,567.1 601,567.7 600,568.0 599,568.1 598,567.9 597,567.4 596,567.3 595,567.4 594,567.2 593,566.7 592,566.1 591,566.2 590,566.2 589,565.8 588,565.5 587,565.9 586,565.9 585,566.4 584,566.7 583,566.8 582,566.6 581,566.5 580,566.4 579,567.1 578,567.6 577,567.9 576,567.9 575,567.7 574,567.2 573,566.8 572,567.1 571,567.3 570,567.5 569,567.4 568,567.2 567,566.7 566,566.5 565,566.5 564,566.6 563,566.6 562,566.5 561,566.4 560,566.3 559,566.3 558,565.9 557,566.2 556,566.2 555,566.1 554,566.3 553,566.5 552,566.7 551,566.8 550,567.7 549,568.1 548,568.3 547,568.2 546,568.8 545,569.3 544,569.5 543,569.4 542,569.1 541,568.4 540,568.9 539,569.5 538,569.8 537,569.9 536,569.7 535,569.2 534,569.3 533,569.4 532,569.4 531,569.0 530,569.9 529,570.4 528,570.6 527,570.5 526,570.3 525,570.5 524,570.4 523,570.0 522,569.4 521,569.0 520,569.4 519,569.9 518,570.1 517,570.0 516,569.7 515,569.3 514,569.5 513,569.4 512,569.4 511,569.5 510,570.3 509,570.8 508,570.9 507,570.9 506,570.5 505,570.0 504,570.1 503,569.9 502,569.4 501,569.4 500,570.1 499,570.4 498,570.4 497,571.3 496,572.2 495,572.6 494,572.8 493,572.7 492,572.4 491,571.9 490,571.8 489,571.5 488,571.7 487,571.8 486,571.6 485,571.4 484,571.5 483,571.3 482,570.8 481,570.8 480,571.3 479,571.5 478,571.7 477,572.0 476,573.3 475,573.9 474,574.2 473,574.3 472,574.1 471,573.6 470,572.6 469,572.7 468,573.4 467,573.7 466,573.7 465,573.5 464,573.0 463,572.1 462,572.3 461,572.9 460,573.2 459,573.8 458,574.3 457,574.5 456,574.4 455,574.1 454,573.8 453,573.4 452,573.8 451,574.1 450,574.2 449,574.0 448,573.7 447,573.9 446,573.8 445,573.5 444,572.9 443,572.7 442,573.0 441,573.1 440,573.6 439,573.9 438,574.0 437,574.5 436,574.7 435,574.6 434,574.2 433,574.1 432,574.4 431,574.5 430,574.6 429,574.7 428,574.5 427,574.0 426,573.4 425,573.2 424,574.0 423,574.5 422,574.6 421,574.6 420,574.2 419,573.5 418,573.1 417,573.3 416,573.6 415,574.0 414,574.2 413,574.1 412,573.8 411,573.7 410,573.6 409,573.9 408,574.0 407,573.8 406,573.9 405,574.8 404,575.3 403,575.4 402,575.4 401,575.0 400,574.3 399,573.5 398,573.5 397,573.6 396,573.4 395,572.9 394,573.7 393,574.3 392,574.6 391,574.7 390,575.1 389,575.5 388,575.7 387,575.6 386,575.3 385,574.7 384,574.5 383,574.0 382,573.9 381,574.0 380,574.3 379,574.4 378,574.4 377,574.0 376,574.3 375,574.8 374,575.0 373,574.9 372,574.6 371,573.9 370,573.9 369,574.6 368,575.0 367,575.2 366,575.2 365,575.4 364,575.3 363,575.0 362,574.3 361,574.5 360,574.8 359,574.9 358,574.9 357,574.5 356,574.7 355,575.1 354,575.4 353,575.5 352,575.4 351,575.1 350,574.8 349,574.5 348,574.3 347,574.3 346,574.7 345,574.9 344,574.8 343,574.5 342,574.5 341,574.9 340,576.2 339,576.9 338,577.2 337,577.2 336,577.0 335,576.5 334,575.6 333,575.6 332,575.7 331,575.5 330,575.7 329,575.6 328,575.6 327,576.3 326,576.6 325,576.6 324,576.4 323,576.1 322,576.0 321,575.7 320,575.7 319,575.8 318,575.6 317,575.1 316,575.5 315,575.7 314,575.6 313,576.2 312,576.9 311,577.2 310,577.2 309,577.0 308,576.5 307,576.0 306,575.7 305,575.0 304,575.2 303,575.3 302,575.3 301,574.9 300,574.2 299,574.6 298,574.9 297,575.0 296,574.8 295,574.8 294,575.1 293,575.1 292,576.0 291,576.7 290,577.0 289,577.1 288,576.8 287,576.4 286,575.4 285,574.9 284,574.4 283,573.4Z"/>
<path fill="#ec3237" d="M283,581.2 284,579.2 285,578.4 286,578.1 287,578.0 288,578.2 289,578.7 290,579.6 291,579.8 292,579.7 293,579.2 294,579.0 295,579.0 296,579.3 297,579.6 298,579.7 299,580.0 300,580.3 301,580.8 302,581.4 303,581.9 304,581.2 305,580.8 306,580.1 307,579.6 308,579.2 309,579.0 310,579.1 311,579.4 312,580.1 313,581.4 314,581.4 315,581.2 316,581.2 317,581.4 318,581.5 319,581.8 320,581.8 321,581.2 322,581.0 323,581.1 324,581.4 325,581.9 326,581.7 327,581.8 328,582.0 329,581.8 330,581.9 331,582.1 332,582.6 333,583.0 334,583.3 335,583.6 336,582.7 337,582.2 338,582.0 339,580.3 340,579.5 341,579.1 342,579.1 343,579.2 344,579.7 345,580.8 346,581.5 347,581.4 348,581.6 349,582.1 350,582.6 351,582.6 352,582.8 353,582.5 354,582.2 355,582.3 356,582.6 357,583.3 358,583.0 359,582.8 360,582.6 361,582.6 362,583.0 363,583.2 364,582.6 365,582.4 366,582.5 367,582.8 368,583.5 369,583.5 370,582.8 371,582.4 372,582.3 373,582.5 374,582.3 375,582.3 376,582.4 377,582.3 378,582.1 379,582.1 380,581.8 381,581.6 382,581.6 383,582.0 384,582.3 385,582.2 386,582.4 387,582.5 388,582.3 389,581.2 390,580.4 391,580.1 392,580.0 393,580.2 394,580.7 395,581.1 396,581.4 397,582.1 398,583.3 399,583.0 400,582.9 401,583.1 402,582.6 403,582.4 404,582.4 405,582.8 406,582.7 407,582.5 408,582.1 409,581.7 410,581.6 411,581.8 412,581.7 413,581.4 414,581.3 415,581.5 416,582.0 417,582.1 418,581.7 419,581.4 420,581.5 421,581.8 422,582.4 423,581.6 424,581.1 425,580.9 426,580.9 427,581.3 428,581.8 429,581.5 430,580.7 431,580.3 432,580.3 433,580.4 434,580.9 435,581.4 436,581.2 437,580.3 438,579.6 439,579.2 440,579.1 441,579.3 442,579.6 443,579.6 444,580.0 445,580.7 446,580.7 447,579.6 448,579.1 449,578.8 450,578.9 451,579.0 452,578.9 453,579.1 454,579.6 455,579.8 456,579.0 457,578.6 458,578.6 459,578.7 460,579.2 461,580.3 462,580.8 463,580.2 464,579.8 465,579.7 466,579.9 467,577.8 468,577.1 469,576.7 470,576.6 471,576.8 472,577.3 473,577.7 474,577.6 475,577.5 476,576.7 477,576.3 478,576.3 479,576.5 480,577.0 481,578.0 482,579.5 483,579.8 484,579.7 485,579.6 486,579.8 487,579.9 488,579.8 489,579.5 490,578.9 491,578.7 492,578.8 493,579.1 494,578.3 495,577.5 496,577.1 497,577.1 498,577.2 499,577.7 500,577.2 501,577.0 502,577.1 503,577.4 504,577.3 505,577.3 506,577.7 507,577.2 508,576.5 509,576.1 510,576.0 511,576.2 512,576.7 513,576.8 514,576.6 515,576.4 516,576.4 517,576.8 518,577.1 519,576.0 520,575.5 521,575.2 522,575.3 523,575.6 524,576.1 525,575.6 526,575.4 527,575.2 528,574.8 529,574.8 530,574.9 531,574.9 532,575.1 533,575.2 534,574.9 535,575.0 536,575.3 537,576.0 538,576.9 539,576.8 540,576.3 541,576.1 542,576.1 543,575.1 544,574.3 545,573.9 546,573.9 547,574.0 548,574.2 549,573.6 550,572.8 551,572.5 552,572.4 553,572.6 554,572.4 555,572.0 556,572.0 557,572.2 558,572.7 559,572.9 560,573.0 561,572.9 562,573.1 563,572.8 564,572.2 565,571.7 566,571.5 567,571.2 568,570.5 569,570.1 570,569.7 571,569.4 572,569.4 573,569.6 574,570.1 575,570.8 576,570.8 577,571.1 578,570.6 579,570.4 580,570.4 581,570.1 582,569.0 583,568.4 584,568.2 585,568.3 586,568.6 587,569.3 588,569.8 589,569.7 590,569.1 591,568.9 592,569.0 593,569.3 594,569.3 595,569.3 596,569.3 597,569.3 598,569.2 599,569.4 600,569.5 601,569.1 602,569.0 603,568.2 604,567.7 605,567.5 606,567.5 607,567.6 608,566.9 609,566.5 610,566.4 611,566.6 612,566.8 613,567.1 614,567.2 615,566.7 616,566.2 617,565.9 618,566.0 619,566.3 620,566.4 621,565.9 622,565.7 623,565.7 624,566.1 625,565.3 626,564.7 627,564.5 628,564.6 629,564.5 630,564.3 631,564.4 632,564.7 633,565.0 634,564.6 635,564.2 636,563.4 637,563.0 638,563.0 639,563.2 640,563.1 641,562.9 642,562.9 643,563.3 644,564.0 645,563.8 646,562.7 647,562.2 648,562.0 649,562.0 650,562.1 651,561.7 652,561.3 653,561.0 654,560.9 655,561.1 656,561.6 657,562.0 658,561.9 659,562.1 660,562.6 661,561.6 662,559.6 663,558.8 664,558.4 665,558.4 666,558.5 667,559.0 668,559.5 669,559.4 670,559.6 671,560.1 672,560.6 673,560.4 674,560.3 675,559.6 676,559.2 677,559.1 678,559.3 679,559.8 680,560.2 681,559.8 682,559.7 683,559.9 684,560.4 685,559.2 686,558.4 687,558.1 688,558.0 689,558.2 690,558.7 691,558.7 692,558.8 693,559.1 694,558.6 695,558.4 696,558.4 697,558.7 698,558.6 699,558.1 700,557.8 701,557.9 702,558.0 703,557.5 704,556.8 705,556.4 706,556.3 707,556.5 708,557.0 709,556.0 710,554.9 711,554.4 712,554.2 713,554.2 714,554.6 715,555.3 716,556.2 717,556.9 718,556.6 719,556.5 720,556.7 721,557.2 722,558.0 723,557.2 724,556.3 725,555.8 726,555.5 727,555.6 728,555.9 729,555.5 730,555.0 731,554.7 732,554.8 733,555.1 734,555.8 735,555.4 736,555.2 737,554.8 738,554.3 739,554.1 740,554.1 741,554.2 742,554.4 743,554.9 744,554.8 745,554.2 746,553.4 747,553.0 748,553.0 749,553.2 750,553.3 751,552.7 752,552.5 753,552.6 754,552.4 755,552.2 756,552.3 757,551.1 758,550.0 759,549.5 760,549.3 761,549.3 762,549.7 763,550.4 764,550.7 765,550.8 766,551.1 767,550.6 768,550.3 769,550.2 770,549.9 771,549.2 772,548.3 773,547.8 774,547.6 775,547.6 776,548.0 777,548.6 778,547.8 779,547.5 780,547.2 781,546.4 782,546.1 783,546.0 784,546.2 785,546.6 786,545.9 787,545.5 788,545.3 789,545.3 790,545.5 791,546.0 792,545.5 793,544.6 794,543.5 795,543.0 796,542.8 797,542.8 798,543.2 799,543.9 800,543.9 801,543.6 802,542.8 803,542.2 804,542.0 805,542.1 806,541.6 807,541.4 808,541.4 809,541.8 810,542.2 811,541.6 812,541.2 813,541.1 814,539.2 815,538.1 816,537.5 817,537.3 818,537.4 819,537.7 820,538.4 821,538.6 822,538.4 823,538.5 824,538.8 825,537.7 826,536.6 827,536.0 828,535.8 829,535.9 830,536.2 831,536.1 832,536.1 833,535.8 834,535.5 835,535.6 836,535.9 837,535.9 838,535.9 839,534.6 840,533.8 841,533.5 842,533.4 843,533.3 844,532.8 845,532.6 846,532.7 847,533.0 848,532.9 849,532.8 850,532.4 851,532.2 852,532.2 853,532.6 854,532.9 855,532.8 856,532.3 857,531.2 858,530.6 859,530.2 860,530.0 861,530.0 862,530.3 863,530.4 864,530.3 865,529.5 866,529.2 867,529.1 868,527.9 869,527.1 870,526.8 871,526.7 872,526.9 873,527.4 874,528.4 875,528.3 876,527.2 877,526.6 878,526.4 879,526.5 880,526.8 881,527.3 882,527.5 883,528.0 884,528.0 885,527.7 886,526.9 887,526.6 888,526.5 889,526.0 890,525.7 891,525.6 892,525.2 893,525.1 894,525.3 895,525.8 896,525.9 897,525.7 898,525.8 899,526.1 900,525.0 901,524.4 902,524.1 903,523.9 904,523.5 905,522.8 906,522.4 907,522.3 908,522.5 909,523.0 910,523.7 911,523.2 912,522.9 913,523.0 914,523.0 915,522.7 916,521.6 917,521.1 918,520.9 919,520.9 920,521.1 921,520.8 922,520.3 923,520.0 924,520.1 925,520.2 926,519.4 927,518.5 928,517.7 929,517.3 930,517.3 931,517.4 932,517.3 933,517.1 934,516.3 935,516.0 936,515.9 937,515.9 938,516.1 939,515.9 940,515.8 941,514.8 942,514.3 943,514.1 944,513.6 945,513.1 946,512.9 947,512.4 948,511.8 949,511.3 950,510.4 951,509.9 952,509.7 953,509.7 954,509.6 955,509.4 956,509.5 957,509.3 958,508.4 959,507.9 960,507.1 961,506.3 962,505.9 963,505.8 964,504.7 965,504.1 966,503.7 967,502.6 968,501.3 969,500.5 970,500.1 971,500.1 972,500.2 973,499.0 974,497.9 975,497.4 976,497.1 977,496.5 978,495.9 979,495.3 980,494.1 981,493.1 982,492.3 983,491.2 984,490.1 985,489.5 986,489.3 987,489.4 988,489.5 989,488.5 990,488.0 991,487.7 992,487.7 993,485.7 994,484.9 995,484.6 996,484.1 997,483.4 998,483.0 999,482.9 1000,483.1 1001,482.4 1002,481.8 1003,481.6 1004,481.7 1005,482.0 1006,481.7 1007,481.4 1008,481.3 1009,481.4 1010,480.9 1011,479.5 1012,478.4 1013,477.9 1014,477.7 1015,477.7 1016,478.0 1017,478.8 1018,478.7 1019,478.3 1020,478.2 1021,477.1 1022,476.5 1023,476.3 1024,476.4 1025,476.6 1026,476.8 1027,476.8 1028,475.7 1029,474.9 1030,474.5 1031,473.7 1032,472.6 1033,472.0 1034,471.8 1035,471.9 1036,472.2 1037,472.7 1038,472.6 1039,472.8 1040,473.0 1041,472.8 1042,472.9 1043,472.6 1044,472.5 1045,472.7 1046,473.2 1047,474.2 1048,475.5 1049,475.5 1050,475.4 1051,475.6 1052,475.7 1053,475.4 1054,474.8 1055,474.6 1056,474.7 1057,475.0 1058,474.9 1059,474.7 1060,474.4 1061,474.1 1062,474.0 1063,474.2 1064,474.7 1065,475.1 1066,475.3 1067,474.2 1068,473.7 1069,473.5 1070,473.5 1071,473.8 1072,474.3 1073,475.1 1074,476.4 1075,476.0 1076,475.6 1077,475.6 1078,475.8 1079,475.7 1080,475.4 1081,474.8 1082,474.5 1083,474.1 1084,474.0 1085,474.2 1086,474.7 1087,474.3 1088,474.0 1089,473.9 1090,474.1 1091,474.2 1092,474.3 1093,474.6 1094,475.3 1095,476.7 1096,477.4 1097,478.0 1098,477.9 1099,477.8 1100,478.0 1101,478.5 1102,478.7 1103,478.9 1104,478.8 1105,479.0 1106,479.5 1107,480.5 1108,482.0 1109,482.4 1110,483.1 1111,483.6 1112,484.6 1113,486.2 1114,486.9 1115,487.1 1116,487.6 1117,488.6 1118,490.8 1119,491.0 1120,491.2 1121,491.5 1122,492.0 1123,493.0 1124,494.3 1125,494.6 1126,495.3 1127,496.4 1128,497.1 1129,497.5 1130,498.0 1131,498.4 1132,498.9 1133,500.0 1134,500.3 1135,500.8 1136,501.8 1137,503.0 1138,503.0 1139,503.3 1140,503.7 1141,504.2 1142,505.0 1143,505.7 1144,506.4 1145,506.9 1146,507.7 1147,508.8 1148,509.1 1149,509.8 1150,510.1 1151,510.6 1152,511.6 1153,512.5 1154,513.2 1155,513.8 1156,514.3 1157,515.3 1158,516.0 1159,517.0 1160,518.2 1161,519.0 1162,519.8 1163,520.8 1164,521.8 1165,522.6 1166,522.9 1167,523.6 1168,524.6 1169,525.3 1170,525.6 1171,526.3 1172,528.0 1173,529.4 1174,529.7 1175,529.9 1176,530.4 1177,531.4 1178,532.2 1179,533.5 1180,534.0 1181,534.7 1182,535.2 1183,536.2 1184,537.9 1185,539.0 1186,540.2 1187,541.0 1188,541.5 1189,542.0 1190,543.0 1191,543.4 1192,543.5 1193,544.0 1194,545.1 1195,546.4 1196,547.1 1197,547.8 1198,548.5 1199,549.0 1200,550.1 1201,550.6 1202,551.3 1203,552.5 1204,553.0 1205,554.0 1206,555.2 1207,555.7 1208,556.5 1209,556.7 1210,557.2 1211,558.2 1212,559.1 1213,560.1 1214,561.4 1215,562.6 1216,563.7 1217,564.0 1218,564.3 1219,564.8 1220,565.0 1221,565.5 1222,566.5 1223,568.1 1224,568.5 1225,568.9 1226,569.0 1227,569.2 1228,569.7 1229,570.7 1230,571.9 1231,572.1 1232,572.6 1233,563.7 1234,562.6 1235,562.1 1236,561.9 1237,561.9 1238,562.3 1239,563.0 1240,564.6 1241,567.4 1242,569.4 1243,572.0 1244,573.7 1245,574.8 1246,576.5 1247,581.7 1248,582.1 1249,582.6 1250,583.5 1251,584.3 1252,585.3 1253,586.2 1254,586.8 1255,587.2 1256,587.9 1257,589.2 1258,590.1 1259,590.8 1260,591.8 1261,592.3 1262,592.8 1263,593.1 1264,593.2 1265,593.7 1266,594.0 1267,594.8 1268,596.4 1269,599.0 1270,599.9 1271,600.2 1272,600.4 1273,600.6 1274,601.1 1275,602.1 1276,603.1 1277,603.8 1278,604.1 1279,604.8 1280,605.4 1281,605.9 1282,607.0 1283,609.2 1284,609.6 1285,609.8 1286,609.9 1287,610.2 1288,610.9 1289,612.3 1290,613.3 1291,615.5 1292,616.0 1293,616.0 1294,616.2 1295,616.7 1296,617.7 1297,619.9 1298,620.4 1299,620.5 1300,620.9 1301,621.6 1302,622.4 1303,622.9 1304,624.0 1305,624.8 1306,625.2 1307,625.9 1308,627.6 1309,628.5 1310,628.9 1311,629.6 1312,630.6 1313,631.4 1314,632.6 1315,633.1 1316,633.4 1317,634.0 1318,634.5 1319,635.5 1320,637.0 1321,637.6 1322,638.4 1323,638.6 1324,638.8 1325,639.3 1326,640.3 1327,641.6 1328,642.2 1329,643.2 1330,644.0 1331,645.0 1332,645.8 1333,646.5 1334,647.5 1335,647.9 1336,648.6 1337,649.0 1338,649.5 1339,650.5 1340,651.7 1341,653.1 1342,653.5 1343,654.0 1344,654.3 1345,655.1 1346,656.0 1347,656.5 1348,656.7 1349,657.2 1350,658.2 1351,659.7 1352,660.2 1353,661.2 1354,661.3 1355,661.1 1356,661.1 1357,661.4 1358,662.2 1359,663.8 1360,665.9 1361,668.0 1362,668.2 1363,668.5 1364,668.2 1365,668.0 1366,668.1 1367,668.4 1368,669.1 1369,670.7 1370,671.2 1371,672.2 1372,672.3 1373,672.5 1374,673.0 1375,674.0 1376,675.4 1377,675.6 1378,676.1 1379,677.1 1380,677.7 1381,677.4 1382,677.3 1383,677.5 1384,678.0 1385,679.0 1386,679.1 1387,679.2 1388,679.7 1389,680.8 1390,681.5 1391,681.8 1392,682.1 1393,682.2 1394,682.3 1395,682.8 1396,683.5 1397,683.4 1398,683.1 1399,683.0 1400,683.2 1401,683.7 1402,684.1 1403,684.4 1404,684.6 1405,685.1 1406,685.2 1407,685.6 1408,686.3 1409,686.6 1410,685.9 1411,685.4 1412,685.2 1413,685.2 1414,685.6 1415,686.3 1416,687.6 1417,687.8 1418,688.3 1419,688.5 1420,686.5 1421,685.8 1422,685.4 1423,685.3 1424,685.2 1425,685.4 1426,685.9 1427,686.5 1428,686.3 1429,685.7 1430,685.5 1431,685.6 1432,685.9 1433,686.6 1434,688.3 1435,688.0 1436,687.5 1437,687.1 1438,686.8 1439,686.2 1440,685.9 1441,685.8 1442,686.0 1443,686.5 1444,686.7 1445,686.2 1446,685.7 1447,685.3 1448,685.2 1449,685.4 1450,685.6 1451,685.2 1452,685.0 1453,684.7 1454,683.9 1455,683.4 1456,682.7 1457,681.9 1458,681.6 1459,681.5 1460,681.7 1461,682.2 1462,682.5 1463,681.9 1464,681.6 1465,681.5 1466,681.5 1467,679.4 1468,678.7 1469,678.3 1470,678.2 1471,678.4 1472,678.7 1473,678.5 1474,678.6 1475,677.6 1476,676.5 1477,675.9 1478,675.7 1479,675.8 1480,676.1 1481,675.6 1482,674.8 1483,674.5 1484,674.0 1485,673.8 1486,673.8 1487,673.3 1488,672.9 1489,672.2 1490,671.7 1491,671.5 1492,671.5 1493,671.9 1494,671.2 1495,670.9 1496,670.4 1497,670.0 1498,669.9 1499,669.5 1500,668.7 1501,667.9 1502,666.1 1503,665.0 1504,664.4 1505,664.2 1506,664.3 1507,664.6 1508,664.2 1509,663.1 1510,662.6 1511,661.8 1512,661.0 1513,660.7 1514,660.0 1515,658.9 1516,658.3 1517,658.1 1518,658.2 1519,658.5 1520,657.8 1521,657.3 1522,656.3 1523,654.5 1524,652.5 1525,651.7 1526,651.3 1527,651.1 1528,650.8 1529,650.7 1530,650.6 1531,649.8 1532,649.0 1533,648.2 1534,647.4 1535,646.7 1536,646.3 1537,646.2 1538,646.2 1539,644.2 1540,643.0 1541,642.5 1542,642.3 1543,642.4 1544,642.7 1545,642.1 1546,641.5 1547,640.4 1548,639.9 1549,639.5 1550,638.8 1551,638.2 1552,637.5 1553,637.1 1554,637.0 1555,637.2 1556,636.6 1557,635.9 1558,635.1 1559,634.3 1560,633.9 1561,633.9 1562,633.3 1563,632.6 1564,632.2 1565,631.1 1566,630.0 1567,629.5 1568,629.3 1569,629.3 1570,628.5 1571,627.3 1572,626.8 1573,626.4 1574,625.6 1575,625.2 1576,625.2 L1576,634.8 1575,636.8 1574,637.9 1573,638.6 1572,639.1 1571,639.6 1570,639.7 1569,640.7 1568,641.2 1567,641.3 1566,642.0 1565,643.0 1564,643.5 1563,643.7 1562,643.8 1561,645.0 1560,646.1 1559,646.6 1558,646.8 1557,646.9 1556,647.0 1555,647.2 1554,647.7 1553,648.4 1552,649.5 1551,650.5 1550,651.0 1549,651.2 1548,651.1 1547,651.2 1546,652.6 1545,653.6 1544,654.1 1543,654.3 1542,655.0 1541,656.0 1540,656.5 1539,657.2 1538,657.5 1537,657.6 1536,658.0 1535,658.4 1534,659.7 1533,661.3 1532,662.0 1531,662.4 1530,662.4 1529,662.5 1528,662.7 1527,663.5 1526,665.2 1525,665.9 1524,666.3 1523,667.3 1522,667.8 1521,668.0 1520,667.9 1519,667.8 1518,668.5 1517,669.2 1516,669.7 1515,670.5 1514,670.8 1513,671.7 1512,672.2 1511,672.3 1510,672.6 1509,673.7 1508,674.3 1507,676.0 1506,676.7 1505,677.0 1504,677.6 1503,678.1 1502,678.3 1501,678.6 1500,679.1 1499,679.3 1498,679.4 1497,679.7 1496,680.4 1495,680.9 1494,681.1 1493,682.4 1492,683.1 1491,683.5 1490,683.5 1489,683.3 1488,683.6 1487,684.1 1486,684.3 1485,684.3 1484,685.3 1483,685.8 1482,686.0 1481,686.8 1480,687.3 1479,688.0 1478,688.4 1477,688.6 1476,688.6 1475,689.6 1474,690.6 1473,691.1 1472,691.3 1471,691.2 1470,691.1 1469,691.2 1468,691.1 1467,691.2 1466,690.9 1465,691.4 1464,691.9 1463,692.0 1462,692.2 1461,692.3 1460,692.4 1459,692.6 1458,693.1 1457,693.8 1456,694.1 1455,694.6 1454,695.3 1453,697.0 1452,697.7 1451,698.1 1450,698.1 1449,697.9 1448,697.4 1447,696.3 1446,695.5 1445,696.4 1444,697.1 1443,697.5 1442,697.5 1441,697.4 1440,697.6 1439,697.6 1438,697.2 1437,697.4 1436,698.1 1435,698.4 1434,698.5 1433,698.6 1432,698.5 1431,698.2 1430,697.7 1429,697.1 1428,697.0 1427,697.7 1426,698.5 1425,698.8 1424,698.8 1423,698.6 1422,698.1 1421,697.8 1420,697.4 1419,697.9 1418,698.4 1417,698.6 1416,698.5 1415,698.1 1414,698.2 1413,698.3 1412,698.1 1411,697.5 1410,696.4 1409,696.0 1408,695.9 1407,695.7 1406,695.9 1405,696.2 1404,696.2 1403,696.0 1402,695.5 1401,695.0 1400,695.1 1399,695.6 1398,695.8 1397,695.7 1396,695.4 1395,694.6 1394,693.3 1393,693.2 1392,692.8 1391,692.1 1390,692.1 1389,692.6 1388,692.8 1387,692.7 1386,692.3 1385,691.6 1384,689.5 1383,689.0 1382,689.1 1381,688.8 1380,688.3 1379,688.4 1378,688.4 1377,688.2 1376,687.7 1375,686.6 1374,684.9 1373,684.4 1372,683.9 1371,683.5 1370,682.8 1369,682.2 1368,682.2 1367,682.0 1366,681.4 1365,680.3 1364,679.5 1363,679.0 1362,678.6 1361,677.9 1360,677.5 1359,676.8 1358,676.5 1357,676.0 1356,675.3 1355,674.3 1354,673.8 1353,672.7 1352,670.6 1351,670.2 1350,669.9 1349,669.5 1348,668.8 1347,667.8 1346,667.7 1345,667.4 1344,666.9 1343,665.8 1342,664.7 1341,663.9 1340,663.5 1339,662.7 1338,661.2 1337,661.2 1336,660.8 1335,660.0 1334,658.1 1333,657.5 1332,656.5 1331,656.1 1330,655.7 1329,655.2 1328,654.2 1327,654.0 1326,653.4 1325,652.3 1324,650.5 1323,650.0 1322,648.9 1321,648.4 1320,648.0 1319,647.6 1318,647.0 1317,645.9 1316,644.9 1315,644.6 1314,643.8 1313,642.9 1312,642.5 1311,641.8 1310,641.1 1309,640.6 1308,639.5 1307,638.9 1306,638.7 1305,638.1 1304,637.0 1303,634.6 1302,634.5 1301,634.3 1300,633.8 1299,632.7 1298,631.3 1297,629.6 1296,629.4 1295,629.3 1294,629.0 1293,628.2 1292,627.2 1291,626.1 1290,625.6 1289,624.7 1288,623.6 1287,623.0 1286,622.5 1285,621.4 1284,620.5 1283,620.1 1282,619.8 1281,619.0 1280,618.4 1279,618.1 1278,617.3 1277,615.8 1276,615.1 1275,614.0 1274,612.8 1273,612.1 1272,611.4 1271,610.7 1270,610.2 1269,609.4 1268,608.9 1267,608.6 1266,608.2 1265,607.7 1264,606.7 1263,605.3 1262,603.3 1261,602.7 1260,602.0 1259,601.6 1258,600.9 1257,600.4 1256,600.1 1255,599.8 1254,599.2 1253,598.1 1252,597.1 1251,595.5 1250,594.8 1249,594.1 1248,593.5 1247,592.8 1246,598.7 1245,599.7 1244,600.5 1243,601.0 1242,601.2 1241,601.1 1240,600.8 1239,600.0 1238,598.0 1237,597.3 1236,595.2 1235,593.6 1234,592.8 1233,590.8 1232,585.6 1231,585.1 1230,584.0 1229,582.4 1228,581.6 1227,580.7 1226,580.3 1225,579.6 1224,578.8 1223,578.5 1222,578.3 1221,578.0 1220,577.6 1219,576.9 1218,575.2 1217,574.9 1216,574.7 1215,574.1 1214,573.0 1213,571.9 1212,571.6 1211,571.1 1210,570.0 1209,568.3 1208,566.9 1207,567.1 1206,567.2 1205,567.0 1204,566.4 1203,565.3 1202,563.3 1201,562.7 1200,562.1 1199,561.6 1198,560.7 1197,560.5 1196,559.9 1195,559.3 1194,558.9 1193,558.2 1192,556.2 1191,555.2 1190,554.9 1189,554.1 1188,552.3 1187,551.5 1186,550.5 1185,550.7 1184,550.6 1183,550.2 1182,549.5 1181,547.7 1180,547.0 1179,545.0 1178,543.3 1177,543.1 1176,542.5 1175,541.4 1174,540.5 1173,539.7 1172,538.8 1171,538.6 1170,538.0 1169,536.9 1168,536.4 1167,535.5 1166,534.0 1165,533.2 1164,532.9 1163,532.4 1162,531.9 1161,531.3 1160,530.2 1159,528.5 1158,527.7 1157,527.5 1156,527.2 1155,526.4 1154,525.5 1153,525.2 1152,524.7 1151,523.6 1150,521.6 1149,520.4 1148,520.4 1147,520.2 1146,519.7 1145,519.1 1144,518.7 1143,518.0 1142,516.8 1141,516.1 1140,515.2 1139,514.3 1138,513.8 1137,513.3 1136,512.6 1135,511.9 1134,511.6 1133,511.5 1132,511.2 1131,510.4 1130,509.0 1129,509.1 1128,508.9 1127,508.3 1126,507.2 1125,506.3 1124,505.8 1123,505.5 1122,505.1 1121,504.8 1120,504.2 1119,503.1 1118,500.4 1117,499.5 1116,499.1 1115,498.9 1114,498.6 1113,498.2 1112,497.5 1111,496.3 1110,495.6 1109,495.4 1108,494.8 1107,493.7 1106,493.3 1105,493.1 1104,492.5 1103,491.9 1102,491.3 1101,490.2 1100,489.7 1099,489.2 1098,488.1 1097,487.1 1096,487.5 1095,487.7 1094,487.6 1093,487.4 1092,487.6 1091,487.5 1090,488.0 1089,488.4 1088,488.4 1087,488.2 1086,487.7 1085,486.6 1084,484.7 1083,484.7 1082,484.9 1081,485.1 1080,485.3 1079,485.6 1078,485.9 1077,486.9 1076,487.4 1075,488.3 1074,489.3 1073,489.8 1072,490.0 1071,489.9 1070,489.6 1069,488.8 1068,487.7 1067,487.3 1066,486.9 1065,486.7 1064,486.1 1063,486.1 1062,486.5 1061,486.5 1060,486.3 1059,485.8 1058,485.7 1057,486.0 1056,486.1 1055,486.3 1054,486.4 1053,486.4 1052,486.0 1051,485.6 1050,486.0 1049,486.0 1048,485.9 1047,485.6 1046,485.1 1045,484.7 1044,484.5 1043,484.0 1042,483.8 1041,483.9 1040,484.0 1039,484.6 1038,485.3 1037,485.7 1036,485.7 1035,485.7 1034,486.0 1033,486.1 1032,486.1 1031,486.1 1030,485.7 1029,485.5 1028,486.0 1027,486.2 1026,487.9 1025,488.9 1024,489.4 1023,489.6 1022,489.5 1021,489.2 1020,488.7 1019,489.6 1018,490.1 1017,490.3 1016,490.2 1015,489.9 1014,489.5 1013,490.0 1012,490.2 1011,491.1 1010,491.6 1009,492.5 1008,493.0 1007,493.2 1006,493.1 1005,492.7 1004,492.5 1003,492.8 1002,492.9 1001,493.2 1000,494.1 999,495.1 998,495.6 997,495.8 996,496.5 995,498.2 994,498.9 993,499.3 992,499.3 991,499.1 990,499.1 989,499.1 988,500.5 987,501.5 986,502.2 985,502.9 984,503.9 983,504.6 982,504.9 981,505.0 980,505.8 979,506.8 978,507.9 977,508.9 976,509.4 975,509.9 974,510.3 973,510.3 972,510.4 971,512.0 970,512.7 969,513.5 968,514.5 967,515.0 966,515.2 965,515.7 964,516.4 963,516.7 962,516.9 961,517.1 960,517.6 959,518.1 958,518.8 957,519.1 956,519.4 955,519.9 954,520.2 953,521.0 952,521.5 951,521.7 950,522.1 949,522.4 948,522.7 947,522.7 946,523.2 945,523.6 944,525.2 943,525.9 942,526.2 941,526.3 940,526.2 939,526.0 938,526.3 937,526.6 936,526.9 935,527.0 934,526.8 933,527.5 932,527.9 931,527.9 930,528.3 929,529.0 928,530.0 927,531.0 926,531.5 925,531.7 924,531.6 923,532.7 922,533.7 921,534.2 920,534.4 919,534.3 918,533.9 917,533.2 916,532.9 915,533.3 914,533.8 913,534.0 912,534.4 911,534.9 910,535.1 909,535.6 908,535.7 907,535.8 906,536.3 905,536.4 904,536.4 903,536.0 902,536.3 901,536.4 900,536.7 899,537.2 898,537.4 897,537.6 896,538.1 895,538.2 894,538.2 893,537.8 892,537.2 891,537.3 890,537.3 889,536.9 888,537.4 887,538.1 886,538.4 885,538.8 884,539.5 883,540.0 882,540.4 881,540.4 880,540.2 879,539.7 878,539.0 877,539.1 876,538.8 875,539.5 874,539.9 873,539.9 872,539.7 871,539.8 870,539.9 869,539.7 868,539.4 867,540.1 866,540.5 865,540.5 864,541.0 863,542.0 862,542.5 861,542.7 860,542.6 859,542.3 858,541.8 857,543.5 856,544.2 855,544.6 854,544.6 853,544.4 852,544.2 851,544.3 850,545.0 849,545.3 848,545.4 847,545.9 846,546.1 845,546.0 844,545.6 843,544.9 842,545.5 841,546.0 840,546.2 839,546.1 838,545.9 837,545.4 836,545.3 835,545.7 834,545.9 833,545.8 832,545.4 831,547.7 830,548.7 829,549.2 828,549.4 827,549.9 826,550.7 825,551.0 824,551.0 823,550.8 822,550.3 821,549.2 820,549.1 819,549.0 818,549.3 817,550.0 816,550.5 815,550.7 814,551.2 813,551.7 812,551.9 811,551.8 810,551.5 809,552.4 808,552.9 807,553.1 806,553.0 805,554.9 804,555.9 803,556.4 802,556.6 801,556.5 800,556.1 799,555.6 798,555.5 797,555.2 796,555.3 795,555.8 794,556.0 793,555.9 792,555.7 791,556.0 790,556.1 789,557.1 788,557.6 787,557.8 786,557.7 785,557.3 784,556.9 783,557.6 782,558.4 781,558.7 780,558.7 779,558.5 778,558.4 777,558.9 776,559.2 775,560.9 774,561.6 773,562.0 772,562.0 771,561.8 770,561.3 769,562.2 768,562.7 767,562.9 766,562.8 765,562.5 764,562.2 763,562.3 762,562.4 761,562.6 760,562.8 759,562.7 758,562.4 757,562.6 756,562.6 755,563.1 754,563.6 753,564.3 752,564.8 751,565.1 750,565.2 749,564.9 748,564.6 747,564.9 746,565.0 745,564.7 744,565.6 743,566.3 742,566.6 741,566.7 740,566.4 739,565.9 738,566.6 737,567.1 736,567.3 735,567.3 734,566.9 733,566.2 732,566.7 731,566.9 730,566.8 729,567.0 728,568.0 727,568.5 726,568.7 725,568.7 724,569.2 723,569.7 722,569.8 721,569.8 720,569.4 719,568.7 718,568.0 717,566.9 716,567.4 715,567.6 714,567.5 713,567.7 712,568.0 711,568.0 710,568.0 709,567.7 708,567.6 707,567.3 706,568.2 705,568.9 704,569.3 703,569.3 702,569.1 701,569.0 700,569.7 699,570.3 698,570.8 697,570.9 696,570.9 695,570.5 694,569.7 693,569.4 692,569.4 691,569.8 690,569.9 689,570.2 688,570.3 687,570.0 686,569.5 685,569.6 684,569.6 683,570.2 682,571.2 681,571.7 680,571.9 679,571.8 678,571.4 677,571.1 676,571.7 675,572.2 674,573.2 673,573.7 672,573.9 671,573.8 670,573.5 669,572.7 668,572.8 667,573.2 666,573.2 665,573.2 664,573.5 663,573.6 662,573.8 661,574.0 660,573.9 659,573.9 658,574.4 657,574.5 656,574.5 655,574.1 654,573.3 653,573.2 652,573.7 651,573.9 650,573.8 649,573.9 648,574.0 647,574.0 646,575.2 645,575.9 644,576.2 643,576.3 642,576.0 641,575.9 640,575.5 639,574.8 638,574.9 637,574.6 636,574.5 635,576.2 634,576.9 633,577.3 632,577.3 631,577.1 630,577.3 629,577.7 628,577.7 627,577.5 626,577.8 625,578.0 624,578.2 623,578.2 622,577.8 621,578.1 620,578.8 619,579.2 618,579.2 617,579.0 616,579.0 615,579.2 614,579.1 613,578.8 612,579.3 611,579.4 610,579.4 609,579.0 608,578.5 607,578.4 606,578.1 605,577.7 604,578.0 603,578.7 602,579.0 601,579.7 600,580.0 599,580.1 598,579.9 597,579.3 596,579.5 595,580.0 594,580.1 593,580.1 592,580.2 591,580.6 590,580.6 589,580.7 588,580.6 587,580.3 586,580.1 585,579.9 584,580.1 583,580.6 582,580.8 581,581.0 580,581.2 579,581.3 578,581.6 577,582.0 576,582.7 575,583.0 574,583.1 573,582.9 572,582.3 571,582.5 570,583.2 569,583.5 568,583.6 567,583.4 566,582.8 565,581.8 564,582.5 563,583.2 562,583.5 561,583.6 560,584.1 559,584.3 558,584.4 557,584.6 556,584.5 555,584.2 554,583.9 553,584.0 552,583.9 551,585.0 550,585.5 549,585.6 548,585.6 547,585.2 546,584.7 545,586.1 544,586.8 543,587.2 542,587.2 541,587.0 540,586.5 539,586.4 538,586.6 537,586.5 536,586.2 535,585.9 534,585.6 533,585.8 532,585.8 531,585.7 530,585.5 529,585.6 528,585.9 527,585.9 526,585.7 525,587.8 524,588.8 523,589.3 522,589.5 521,589.4 520,589.1 519,588.3 518,587.9 517,587.8 516,588.2 515,588.4 514,588.3 513,587.9 512,588.4 511,589.0 510,590.0 509,590.5 508,590.7 507,590.6 506,590.2 505,589.6 504,589.5 503,589.1 502,588.4 501,588.8 500,589.5 499,589.8 498,589.9 497,589.7 496,589.2 495,588.5 494,588.6 493,589.0 492,590.2 491,591.2 490,591.7 489,591.9 488,591.8 487,591.5 486,590.7 485,590.4 484,590.3 483,592.0 482,592.7 481,593.0 480,593.1 479,592.9 478,592.3 477,591.2 476,590.6 475,590.4 474,590.6 473,590.7 472,591.0 471,591.2 470,591.1 469,591.4 468,591.9 467,592.1 466,592.0 465,591.7 464,591.8 463,591.8 462,591.4 461,591.1 460,591.3 459,591.6 458,592.0 457,592.0 456,591.8 455,591.3 454,590.9 453,591.1 452,591.0 451,590.7 450,590.4 449,591.1 448,591.4 447,591.5 446,591.8 445,592.0 444,591.9 443,591.6 442,591.8 441,591.8 440,591.8 439,592.3 438,592.4 437,592.4 436,592.2 435,592.3 434,593.0 433,593.3 432,593.4 431,593.2 430,593.4 429,593.6 428,593.5 427,593.3 426,593.0 425,592.7 424,593.2 423,594.2 422,594.7 421,594.9 420,594.8 419,594.5 418,593.8 417,594.0 416,593.9 415,593.6 414,594.1 413,594.4 412,594.5 411,594.3 410,594.5 409,594.7 408,594.6 407,594.3 406,593.9 405,593.8 404,593.7 403,593.9 402,593.8 401,593.6 400,593.3 399,592.7 398,593.0 397,593.1 396,592.8 395,592.5 394,592.8 393,592.9 392,592.7 391,592.7 390,593.9 389,594.6 388,594.9 387,595.0 386,594.8 385,594.2 384,593.1 383,592.2 382,592.7 381,592.9 380,592.8 379,593.5 378,594.2 377,594.6 376,594.6 375,594.4 374,594.5 373,594.5 372,594.4 371,594.0 370,593.9 369,594.1 368,594.0 367,594.7 366,595.2 365,595.4 364,595.3 363,594.9 362,594.1 361,593.5 360,594.2 359,594.5 358,594.6 357,594.4 356,593.9 355,593.1 354,593.1 353,594.1 352,595.8 351,596.5 350,596.8 349,596.9 348,596.7 347,596.1 346,595.0 345,594.1 344,594.0 343,593.6 342,592.9 341,592.7 340,592.6 339,592.3 338,593.1 337,593.7 336,594.2 335,594.4 334,594.3 333,593.9 332,593.2 331,593.0 330,592.9 329,592.8 328,592.9 327,592.6 326,592.3 325,593.0 324,593.4 323,593.4 322,593.2 321,592.7 320,592.8 319,593.3 318,593.5 317,593.4 316,593.0 315,592.3 314,591.9 313,592.2 312,592.4 311,592.9 310,593.1 309,593.1 308,592.7 307,591.9 306,592.2 305,592.8 304,593.1 303,593.1 302,592.9 301,592.4 300,591.3 299,590.6 298,590.6 297,590.4 296,589.9 295,589.8 294,590.5 293,591.2 292,591.8 291,592.2 290,592.2 289,592.0 288,591.5 287,590.5 286,590.7 285,590.6 284,590.3 283,589.5Z"/>
<path fill="#1f6fd3" d="M283,582.1 284,581.3 285,580.9 286,580.2 287,579.5 288,579.1 289,579.1 290,579.3 291,579.7 292,580.5 293,580.0 294,579.8 295,579.9 296,580.2 297,579.8 298,579.5 299,579.4 300,578.9 301,578.1 302,577.8 303,577.7 304,577.7 305,577.5 306,577.5 307,577.8 308,578.0 309,577.8 310,577.3 311,577.1 312,577.1 313,577.4 314,578.1 315,577.3 316,576.8 317,576.6 318,576.6 319,576.2 320,576.2 321,576.3 322,576.8 323,577.8 324,577.0 325,576.7 326,575.5 327,574.7 328,574.4 329,574.3 330,574.5 331,575.0 332,575.9 333,578.1 334,578.8 335,579.2 336,578.5 337,577.8 338,577.4 339,577.4 340,577.1 341,576.7 342,575.9 343,575.6 344,575.5 345,575.5 346,575.2 347,575.1 348,575.0 349,574.5 350,574.3 351,574.3 352,574.6 353,574.8 354,574.7 355,574.9 356,575.4 357,576.0 358,575.5 359,574.8 360,574.4 361,574.3 362,574.5 363,575.0 364,575.4 365,575.3 366,575.1 367,574.9 368,573.9 369,573.2 370,572.9 371,572.8 372,572.8 373,572.1 374,571.8 375,571.7 376,571.9 377,572.3 378,573.3 379,574.3 380,574.0 381,573.9 382,574.1 383,574.6 384,575.0 385,574.3 386,573.6 387,573.0 388,572.5 389,572.3 390,572.3 391,572.6 392,573.0 393,573.7 394,574.2 395,573.0 396,572.3 397,571.9 398,571.9 399,572.1 400,572.5 401,571.5 402,570.5 403,570.0 404,569.8 405,569.8 406,570.1 407,570.8 408,572.2 409,572.8 410,572.8 411,572.5 412,572.4 413,572.6 414,572.3 415,571.3 416,569.2 417,567.6 418,566.9 419,566.5 420,566.5 421,566.6 422,567.1 423,568.0 424,568.6 425,568.8 426,568.3 427,568.1 428,568.2 429,568.5 430,568.6 431,568.1 432,567.9 433,567.9 434,568.2 435,568.9 436,570.3 437,569.1 438,568.4 439,568.1 440,568.0 441,568.0 442,567.0 443,566.5 444,566.3 445,566.3 446,566.6 447,565.9 448,565.4 449,565.2 450,565.2 451,565.6 452,565.9 453,566.1 454,566.5 455,567.2 456,567.0 457,566.8 458,566.8 459,566.1 460,565.7 461,565.7 462,565.9 463,565.8 464,565.5 465,564.8 466,564.5 467,564.4 468,564.6 469,565.0 470,564.8 471,564.6 472,564.6 473,565.0 474,565.6 475,566.4 476,566.2 477,566.1 478,566.2 479,565.7 480,565.4 481,564.7 482,564.3 483,564.2 484,564.3 485,563.9 486,563.8 487,564.0 488,563.9 489,563.2 490,562.8 491,562.7 492,562.9 493,563.4 494,564.3 495,565.3 496,564.7 497,564.3 498,564.2 499,564.4 500,564.3 501,564.0 502,563.9 503,564.1 504,564.6 505,564.0 506,563.4 507,563.2 508,563.3 509,563.5 510,562.4 511,561.9 512,561.7 513,561.8 514,562.1 515,562.8 516,563.7 517,564.1 518,562.0 519,561.0 520,560.5 521,560.3 522,560.3 523,560.6 524,561.3 525,561.2 526,561.1 527,561.3 528,561.8 529,562.3 530,562.4 531,562.3 532,561.2 533,560.1 534,559.6 535,559.4 536,559.5 537,559.8 538,560.2 539,560.1 540,559.6 541,559.4 542,559.5 543,559.4 544,559.0 545,558.9 546,559.1 547,559.6 548,558.3 549,557.6 550,557.2 551,557.1 552,557.3 553,557.8 554,558.0 555,557.3 556,555.4 557,553.8 558,553.1 559,552.8 560,552.7 561,552.9 562,553.3 563,554.3 564,556.4 565,555.4 566,554.9 567,554.5 568,554.3 569,554.3 570,554.7 571,554.6 572,554.7 573,554.7 574,554.6 575,554.6 576,554.9 577,555.0 578,555.1 579,553.9 580,552.9 581,552.4 582,552.2 583,552.2 584,552.5 585,553.2 586,552.6 587,552.2 588,551.5 589,551.0 590,550.8 591,550.8 592,551.0 593,551.1 594,550.9 595,550.5 596,550.5 597,550.5 598,550.1 599,550.1 600,550.2 601,549.6 602,548.7 603,547.1 604,546.4 605,546.1 606,546.0 607,546.2 608,546.7 609,546.9 610,545.5 611,544.4 612,543.9 613,543.7 614,543.8 615,544.1 616,544.6 617,543.6 618,543.1 619,542.3 620,541.6 621,541.2 622,541.1 623,541.3 624,541.8 625,542.3 626,542.2 627,542.4 628,542.4 629,542.3 630,541.9 631,540.3 632,539.6 633,538.7 634,537.7 635,537.1 636,536.9 637,537.0 638,536.9 639,536.9 640,537.3 641,537.2 642,537.0 643,536.3 644,536.0 645,535.9 646,534.3 647,533.6 648,533.3 649,533.2 650,533.4 651,532.6 652,531.6 653,531.0 654,530.8 655,530.9 656,531.2 657,531.4 658,530.9 659,530.4 660,530.2 661,530.2 662,530.5 663,530.2 664,529.2 665,528.5 666,528.2 667,527.4 668,526.3 669,525.8 670,525.6 671,525.7 672,524.9 673,524.4 674,524.2 675,524.2 676,524.1 677,523.4 678,523.1 679,523.0 680,521.9 681,521.2 682,520.9 683,520.8 684,520.6 685,520.1 686,519.9 687,519.3 688,519.1 689,518.3 690,517.2 691,516.7 692,516.5 693,515.8 694,514.7 695,514.2 696,514.0 697,514.1 698,514.1 699,513.7 700,512.9 701,511.3 702,510.6 703,510.3 704,509.4 705,508.2 706,506.6 707,505.9 708,505.5 709,505.5 710,505.6 711,505.3 712,505.4 713,505.7 714,504.7 715,503.6 716,502.3 717,501.5 718,499.9 719,499.2 720,498.8 721,498.7 722,498.9 723,499.4 724,499.8 725,499.1 726,498.1 727,497.6 728,497.2 729,496.9 730,496.8 731,496.7 732,494.6 733,493.1 734,492.4 735,492.1 736,492.0 737,491.6 738,491.1 739,490.5 740,490.0 741,489.3 742,488.6 743,486.1 744,485.1 745,484.6 746,484.4 747,484.4 748,484.8 749,485.3 750,484.0 751,483.3 752,483.0 753,482.9 754,483.1 755,482.9 756,482.0 757,481.5 758,480.0 759,479.0 760,478.5 761,478.0 762,477.7 763,477.6 764,477.8 765,477.3 766,476.9 767,475.0 768,473.4 769,472.7 770,471.8 771,470.2 772,469.4 773,469.1 774,469.0 775,469.0 776,467.8 777,467.1 778,466.7 779,466.6 780,466.2 781,464.6 782,463.9 783,463.5 784,463.3 785,461.7 786,461.0 787,460.7 788,460.6 789,460.8 790,460.1 791,458.0 792,456.5 793,455.7 794,455.0 795,454.7 796,454.6 797,454.4 798,454.3 799,452.4 800,451.4 801,450.7 802,450.3 803,450.2 804,450.4 805,449.1 806,448.1 807,447.6 808,446.5 809,445.0 810,444.2 811,443.9 812,443.6 813,443.4 814,442.5 815,440.6 816,439.6 817,439.0 818,437.4 819,436.7 820,436.3 821,436.3 822,435.2 823,434.5 824,434.1 825,433.0 826,431.4 827,430.7 828,428.9 829,427.9 830,427.4 831,427.2 832,427.1 833,426.4 834,426.0 835,425.9 836,425.7 837,425.5 838,425.3 839,424.7 840,423.6 841,422.0 842,421.3 843,421.0 844,420.1 845,419.3 846,419.0 847,417.6 848,416.6 849,416.0 850,415.4 851,414.5 852,413.5 853,413.0 854,412.8 855,411.8 856,410.8 857,410.3 858,408.9 859,408.2 860,407.1 861,406.4 862,406.0 863,403.5 864,402.5 865,401.9 866,401.7 867,401.6 868,400.3 869,399.6 870,398.6 871,396.4 872,395.1 873,394.4 874,393.7 875,393.0 876,392.6 877,391.1 878,390.1 879,389.6 880,388.8 881,388.1 882,385.6 883,384.6 884,383.8 885,383.0 886,382.1 887,381.1 888,380.6 889,379.6 890,378.1 891,376.9 892,376.1 893,374.7 894,373.1 895,371.3 896,370.3 897,369.4 898,368.7 899,368.0 900,366.8 901,365.8 902,364.2 903,362.9 904,362.2 905,361.8 906,361.4 907,360.4 908,359.2 909,358.2 910,356.1 911,354.5 912,353.8 913,351.6 914,350.6 915,350.1 916,348.9 917,347.3 918,345.9 919,344.3 920,343.6 921,343.1 922,341.6 923,340.2 924,338.6 925,337.8 926,337.3 927,335.8 928,334.2 929,333.1 930,331.9 931,330.3 932,328.9 933,327.7 934,326.1 935,324.3 936,321.8 937,320.2 938,319.5 939,318.3 940,316.7 941,314.3 942,313.0 943,311.1 944,309.8 945,307.5 946,306.1 947,304.2 948,302.5 949,301.8 950,299.8 951,298.0 952,296.0 953,294.3 954,293.0 955,291.4 956,289.5 957,287.9 958,285.8 959,284.2 960,282.6 961,281.3 962,280.6 963,278.5 964,276.8 965,274.5 966,273.5 967,271.6 968,270.1 969,268.3 970,265.6 971,263.6 972,262.6 973,261.9 974,259.0 975,256.9 976,255.3 977,254.6 978,253.2 979,252.2 980,249.3 981,247.7 982,246.3 983,244.7 984,242.7 985,241.0 986,239.8 987,238.1 988,236.5 989,233.7 990,232.1 991,230.9 992,229.9 993,227.8 994,226.2 995,224.8 996,223.2 997,221.6 998,220.2 999,219.1 1000,218.1 1001,215.8 1002,214.3 1003,212.7 1004,212.0 1005,209.9 1006,208.3 1007,207.5 1008,206.4 1009,204.8 1010,203.5 1011,202.8 1012,201.4 1013,200.4 1014,199.4 1015,198.5 1016,197.7 1017,197.0 1018,196.0 1019,195.3 1020,194.9 1021,194.8 1022,192.3 1023,190.7 1024,189.9 1025,189.0 1026,187.4 1027,186.7 1028,186.3 1029,184.7 1030,184.0 1031,183.6 1032,182.6 1033,181.9 1034,181.6 1035,181.1 1036,180.8 1037,180.9 1038,181.2 1039,181.1 1040,180.6 1041,180.4 1042,179.9 1043,179.2 1044,178.8 1045,178.7 1046,178.9 1047,179.4 1048,180.3 1049,181.1 1050,181.1 1051,181.4 1052,181.4 1053,181.3 1054,180.9 1055,180.8 1056,181.0 1057,181.1 1058,179.5 1059,178.7 1060,178.4 1061,178.3 1062,178.5 1063,179.0 1064,179.9 1065,180.9 1066,181.4 1067,182.4 1068,182.5 1069,182.7 1070,183.1 1071,183.9 1072,184.5 1073,184.8 1074,184.7 1075,184.9 1076,185.4 1077,185.8 1078,186.4 1079,187.6 1080,189.0 1081,190.2 1082,190.4 1083,190.9 1084,191.8 1085,193.4 1086,194.1 1087,195.5 1088,197.4 1089,199.4 1090,200.2 1091,201.4 1092,202.1 1093,203.5 1094,205.7 1095,208.5 1096,210.9 1097,211.8 1098,212.8 1099,214.8 1100,216.2 1101,218.6 1102,220.5 1103,222.4 1104,223.9 1105,225.5 1106,226.9 1107,229.9 1108,231.8 1109,233.7 1110,236.2 1111,238.2 1112,239.7 1113,242.2 1114,245.1 1115,246.9 1116,248.7 1117,251.7 1118,253.2 1119,255.7 1120,258.4 1121,260.4 1122,261.8 1123,265.1 1124,267.3 1125,269.8 1126,272.7 1127,274.5 1128,276.7 1129,279.2 1130,280.7 1131,282.2 1132,285.3 1133,286.7 1134,288.9 1135,292.3 1136,294.6 1137,297.6 1138,299.3 1139,301.1 1140,304.0 1141,306.1 1142,309.5 1143,311.8 1144,315.0 1145,316.9 1146,320.0 1147,321.6 1148,324.3 1149,326.8 1150,329.7 1151,332.8 1152,335.2 1153,337.4 1154,340.7 1155,342.5 1156,346.0 1157,348.3 1158,351.8 1159,354.5 1160,357.5 1161,360.0 1162,363.3 1163,365.8 1164,369.2 1165,372.1 1166,375.1 1167,378.0 1168,380.7 1169,384.3 1170,387.3 1171,390.3 1172,393.7 1173,397.1 1174,400.2 1175,403.4 1176,407.0 1177,409.6 1178,413.6 1179,416.7 1180,420.4 1181,423.9 1182,427.8 1183,430.6 1184,434.9 1185,438.5 1186,442.1 1187,445.4 1188,449.1 1189,452.9 1190,455.4 1191,459.5 1192,462.5 1193,465.4 1194,468.2 1195,471.0 1196,473.2 1197,476.8 1198,479.8 1199,482.2 1200,485.5 1201,488.3 1202,490.9 1203,493.6 1204,496.3 1205,499.0 1206,501.7 1207,504.5 1208,507.6 1209,510.5 1210,513.6 1211,516.9 1212,519.2 1213,522.6 1214,525.8 1215,528.6 1216,531.6 1217,535.2 1218,539.2 1219,541.6 1220,544.8 1221,548.7 1222,551.9 1223,554.8 1224,558.4 1225,561.9 1226,565.0 1227,568.9 1228,572.6 1229,577.1 1230,580.6 1231,584.8 1232,588.4 1233,590.5 1234,590.9 1235,591.9 1236,594.9 1237,597.7 1238,600.2 1239,603.0 1240,607.5 1241,612.0 1242,615.6 1243,618.5 1244,620.5 1245,623.1 1246,633.1 1247,634.7 1248,638.2 1249,641.7 1250,644.1 1251,647.1 1252,650.6 1253,653.2 1254,656.8 1255,659.7 1256,663.3 1257,665.9 1258,669.5 1259,672.0 1260,675.9 1261,678.7 1262,681.3 1263,684.1 1264,687.1 1265,689.2 1266,692.2 1267,695.2 1268,697.8 1269,701.1 1270,703.7 1271,706.0 1272,708.5 1273,712.2 1274,714.7 1275,717.6 1276,721.0 1277,723.7 1278,726.6 1279,729.9 1280,733.3 1281,736.2 1282,739.3 1283,743.4 1284,746.6 1285,749.7 1286,753.4 1287,756.2 1288,759.6 1289,762.8 1290,765.9 1291,769.1 1292,772.6 1293,775.8 1294,778.8 1295,781.8 1296,785.2 1297,788.2 1298,790.8 1299,794.1 1300,796.8 1301,799.5 1302,802.5 1303,805.6 1304,808.6 1305,810.8 1306,813.7 1307,816.0 1308,818.9 1309,821.4 1310,824.3 1311,827.1 1312,830.3 1313,832.3 1314,834.4 1315,837.6 1316,840.8 1317,842.5 1318,844.6 1319,847.6 1320,850.2 1321,853.4 1322,855.7 1323,858.1 1324,860.2 1325,863.0 1326,864.8 1327,867.3 1328,870.7 1329,873.6 1330,875.4 1331,877.8 1332,880.2 1333,883.1 1334,884.9 1335,888.1 1336,890.2 1337,893.0 1338,894.6 1339,897.1 1340,900.8 1341,903.2 1342,905.4 1343,908.4 1344,910.5 1345,913.9 1346,916.4 1347,918.3 1348,921.3 1349,923.5 1350,926.0 1351,929.1 1352,931.4 1353,933.7 1354,936.6 1355,938.7 1356,940.6 1357,943.0 1358,945.1 1359,947.1 1360,949.5 1361,952.5 1362,954.0 1363,956.4 1364,959.1 1365,961.0 1366,962.6 1367,965.4 1368,967.2 1369,969.0 1370,971.4 1371,973.6 1372,975.0 1373,977.7 1374,979.2 1375,981.4 1376,982.2 1377,983.6 1378,985.8 1379,987.1 1380,987.8 1381,989.2 1382,990.8 1383,992.2 1384,994.1 1385,995.1 1386,996.9 1387,997.9 1388,999.0 1389,1000.1 1390,1001.2 1391,1002.2 1392,1003.9 1393,1004.6 1394,1004.9 1395,1005.6 1396,1007.0 1397,1007.2 1398,1007.7 1399,1008.6 1400,1009.3 1401,1010.3 1402,1013.0 1403,1013.5 1404,1014.5 1405,1016.3 1406,1016.7 1407,1017.7 1408,1019.0 1409,1019.8 1410,1020.7 1411,1022.8 1412,1022.6 1413,1022.4 1414,1022.4 1415,1022.3 1416,1022.5 1417,1023.0 1418,1023.9 1419,1024.9 1420,1025.6 1421,1027.0 1422,1027.4 1423,1028.1 1424,1028.0 1425,1028.1 1426,1028.4 1427,1029.0 1428,1030.1 1429,1030.0 1430,1030.2 1431,1030.2 1432,1030.1 1433,1029.7 1434,1029.6 1435,1028.6 1436,1027.9 1437,1027.1 1438,1026.1 1439,1025.6 1440,1025.4 1441,1025.4 1442,1024.5 1443,1024.0 1444,1023.8 1445,1023.8 1446,1024.1 1447,1024.7 1448,1024.9 1449,1023.3 1450,1022.6 1451,1022.3 1452,1021.5 1453,1020.9 1454,1018.3 1455,1017.3 1456,1016.8 1457,1016.6 1458,1015.1 1459,1013.5 1460,1011.9 1461,1011.0 1462,1010.4 1463,1009.2 1464,1008.2 1465,1006.0 1466,1004.4 1467,1003.7 1468,1002.8 1469,1002.3 1470,1000.9 1471,1000.2 1472,997.8 1473,996.2 1474,995.5 1475,994.9 1476,994.5 1477,992.3 1478,991.2 1479,989.9 1480,987.7 1481,985.7 1482,984.1 1483,983.4 1484,980.9 1485,979.9 1486,978.8 1487,977.3 1488,974.7 1489,972.6 1490,971.0 1491,969.4 1492,966.9 1493,965.0 1494,963.1 1495,961.0 1496,959.3 1497,957.7 1498,955.1 1499,953.4 1500,950.1 1501,948.9 1502,946.3 1503,945.3 1504,941.3 1505,939.0 1506,937.4 1507,935.8 1508,934.1 1509,931.7 1510,930.1 1511,927.1 1512,925.3 1513,923.5 1514,921.7 1515,919.0 1516,916.8 1517,915.2 1518,912.8 1519,909.9 1520,908.3 1521,905.7 1522,903.7 1523,901.7 1524,899.8 1525,897.5 1526,895.7 1527,893.0 1528,890.7 1529,888.3 1530,886.7 1531,883.8 1532,882.4 1533,880.4 1534,878.5 1535,876.0 1536,874.1 1537,871.3 1538,869.5 1539,867.3 1540,864.8 1541,862.3 1542,860.2 1543,857.6 1544,856.2 1545,854.0 1546,851.9 1547,848.5 1548,846.9 1549,845.7 1550,842.0 1551,840.4 1552,838.4 1553,836.3 1554,834.7 1555,832.4 1556,829.8 1557,827.8 1558,825.2 1559,823.6 1560,821.2 1561,819.8 1562,817.3 1563,815.3 1564,812.9 1565,811.0 1566,808.6 1567,807.4 1568,804.9 1569,802.3 1570,799.7 1571,797.3 1572,795.7 1573,794.6 1574,794.1 1575,793.9 1576,794.0 L1576,806.1 1575,809.5 1574,811.4 1573,812.8 1572,815.1 1571,816.6 1570,819.8 1569,821.3 1568,824.1 1567,825.5 1566,828.6 1565,830.0 1564,832.0 1563,834.3 1562,837.0 1561,839.4 1560,841.1 1559,842.6 1558,846.0 1557,847.4 1556,850.1 1555,851.9 1554,853.4 1553,855.7 1552,858.0 1551,860.0 1550,862.5 1549,864.1 1548,866.8 1547,869.3 1546,871.7 1545,873.9 1544,875.9 1543,878.1 1542,879.8 1541,882.8 1540,884.4 1539,886.2 1538,888.4 1537,890.5 1536,892.1 1535,895.0 1534,898.1 1533,899.8 1532,902.1 1531,904.0 1530,905.5 1529,907.8 1528,910.3 1527,912.3 1526,914.4 1525,916.8 1524,919.2 1523,921.2 1522,923.5 1521,925.5 1520,927.8 1519,929.2 1518,931.9 1517,934.0 1516,936.0 1515,937.9 1514,940.9 1513,942.3 1512,944.5 1511,946.6 1510,949.5 1509,951.3 1508,953.0 1507,955.2 1506,957.2 1505,960.1 1504,961.9 1503,963.9 1502,965.6 1501,967.8 1500,969.2 1499,971.6 1498,973.5 1497,974.9 1496,977.1 1495,979.4 1494,981.2 1493,983.1 1492,984.9 1491,986.1 1490,987.7 1489,989.1 1488,991.1 1487,993.3 1486,994.2 1485,995.6 1484,997.1 1483,999.4 1482,1000.6 1481,1001.6 1480,1002.1 1479,1002.4 1478,1005.3 1477,1006.3 1476,1006.9 1475,1008.6 1474,1009.6 1473,1011.4 1472,1012.3 1471,1013.3 1470,1014.1 1469,1015.2 1468,1017.2 1467,1018.6 1466,1019.3 1465,1019.9 1464,1022.6 1463,1023.5 1462,1025.8 1461,1026.7 1460,1027.2 1459,1027.5 1458,1028.5 1457,1029.3 1456,1030.2 1455,1032.6 1454,1034.1 1453,1034.7 1452,1035.0 1451,1035.6 1450,1036.3 1449,1036.6 1448,1036.6 1447,1036.4 1446,1036.3 1445,1036.9 1444,1037.3 1443,1038.0 1442,1039.0 1441,1039.4 1440,1039.6 1439,1040.2 1438,1040.5 1437,1041.2 1436,1041.7 1435,1041.9 1434,1041.8 1433,1041.5 1432,1041.3 1431,1041.1 1430,1040.8 1429,1040.6 1428,1040.8 1427,1041.1 1426,1041.1 1425,1040.9 1424,1040.4 1423,1039.6 1422,1039.8 1421,1039.7 1420,1039.3 1419,1038.6 1418,1037.0 1417,1036.6 1416,1036.2 1415,1035.5 1414,1036.2 1413,1036.5 1412,1036.5 1411,1036.3 1410,1035.8 1409,1034.8 1408,1034.0 1407,1033.8 1406,1033.3 1405,1032.2 1404,1027.3 1403,1026.7 1402,1025.7 1401,1025.0 1400,1024.4 1399,1023.4 1398,1021.6 1397,1020.6 1396,1019.1 1395,1017.7 1394,1017.1 1393,1016.7 1392,1016.1 1391,1015.7 1390,1014.9 1389,1014.0 1388,1012.6 1387,1011.8 1386,1010.7 1385,1008.7 1384,1007.1 1383,1006.8 1382,1006.1 1381,1004.4 1380,1003.0 1379,1001.7 1378,1000.3 1377,999.1 1376,998.5 1375,997.5 1374,995.5 1373,993.9 1372,992.6 1371,991.0 1370,988.4 1369,987.0 1368,985.5 1367,983.5 1366,981.8 1365,979.8 1364,978.2 1363,976.1 1362,973.1 1361,971.2 1360,969.3 1359,966.5 1358,965.1 1357,963.1 1356,960.9 1355,958.5 1354,956.8 1353,953.3 1352,951.9 1351,950.3 1350,947.0 1349,944.6 1348,942.6 1347,940.5 1346,937.6 1345,935.4 1344,933.0 1343,929.8 1342,927.5 1341,925.1 1340,923.3 1339,920.3 1338,918.1 1337,914.9 1336,912.4 1335,910.5 1334,906.9 1333,904.9 1332,902.0 1331,899.6 1330,897.4 1329,894.1 1328,892.2 1327,888.9 1326,886.9 1325,884.0 1324,881.6 1323,879.4 1322,877.5 1321,875.2 1320,872.9 1319,869.2 1318,867.4 1317,864.0 1316,861.9 1315,859.8 1314,857.5 1313,854.0 1312,851.8 1311,848.7 1310,847.1 1309,844.9 1308,841.7 1307,838.8 1306,836.4 1305,834.3 1304,831.6 1303,828.9 1302,825.5 1301,823.2 1300,820.1 1299,817.8 1298,815.2 1297,812.6 1296,809.6 1295,806.4 1294,803.5 1293,800.7 1292,798.0 1291,794.7 1290,792.0 1289,789.6 1288,786.2 1287,782.6 1286,780.5 1285,776.9 1284,773.5 1283,770.5 1282,767.6 1281,764.5 1280,761.2 1279,757.5 1278,753.5 1277,751.1 1276,747.3 1275,744.1 1274,741.4 1273,737.7 1272,734.2 1271,730.9 1270,727.7 1269,725.1 1268,721.9 1267,718.9 1266,716.0 1265,713.7 1264,709.8 1263,707.9 1262,704.9 1261,702.3 1260,699.3 1259,696.5 1258,693.9 1257,691.2 1256,688.8 1255,685.7 1254,682.7 1253,679.7 1252,676.4 1251,673.3 1250,670.7 1249,667.7 1248,664.8 1247,661.7 1246,658.3 1245,655.2 1244,652.0 1243,648.9 1242,645.6 1241,645.3 1240,644.8 1239,643.8 1238,640.0 1237,638.7 1236,637.3 1235,634.0 1234,629.5 1233,624.8 1232,621.0 1231,618.5 1230,616.0 1229,613.6 1228,602.5 1227,599.8 1226,596.1 1225,592.8 1224,589.1 1223,585.6 1222,581.8 1221,577.5 1220,573.4 1219,570.2 1218,566.6 1217,563.2 1216,559.6 1215,556.1 1214,553.0 1213,549.5 1212,546.4 1211,543.0 1210,539.7 1209,535.9 1208,532.8 1207,530.2 1206,526.9 1205,523.5 1204,520.6 1203,518.2 1202,514.8 1201,511.8 1200,508.5 1199,506.2 1198,503.5 1197,500.9 1196,497.4 1195,495.3 1194,492.6 1193,489.7 1192,486.8 1191,483.8 1190,481.1 1189,478.4 1188,475.2 1187,472.1 1186,469.1 1185,466.4 1184,463.4 1183,460.4 1182,457.1 1181,453.5 1180,449.8 1179,446.3 1178,443.0 1177,439.0 1176,435.9 1175,431.7 1174,428.5 1173,425.4 1172,421.1 1171,418.4 1170,414.5 1169,411.6 1168,407.4 1167,404.5 1166,400.9 1165,397.9 1164,395.2 1163,391.5 1162,388.9 1161,385.3 1160,382.1 1159,379.6 1158,376.7 1157,373.6 1156,370.4 1155,367.5 1154,364.3 1153,361.4 1152,359.1 1151,355.7 1150,352.2 1149,350.0 1148,347.7 1147,344.5 1146,341.8 1145,339.0 1144,336.7 1143,334.0 1142,332.4 1141,329.5 1140,325.4 1139,323.9 1138,320.8 1137,319.1 1136,315.7 1135,313.4 1134,310.6 1133,308.2 1132,305.2 1131,303.6 1130,301.9 1129,299.2 1128,297.2 1127,294.0 1126,291.5 1125,289.8 1124,288.2 1123,285.9 1122,283.4 1121,280.7 1120,279.3 1119,276.6 1118,274.4 1117,271.2 1116,269.5 1115,267.6 1114,264.7 1113,262.7 1112,260.0 1111,257.6 1110,256.0 1109,253.0 1108,251.2 1107,249.1 1106,247.6 1105,244.9 1104,242.6 1103,240.1 1102,238.0 1101,235.7 1100,234.1 1099,231.9 1098,230.5 1097,228.6 1096,226.6 1095,224.6 1094,223.3 1093,221.4 1092,219.8 1091,218.3 1090,216.7 1089,215.4 1088,212.4 1087,210.2 1086,209.6 1085,208.6 1084,207.1 1083,206.1 1082,205.3 1081,204.3 1080,201.3 1079,201.2 1078,201.3 1077,201.1 1076,200.6 1075,199.6 1074,197.7 1073,197.0 1072,195.4 1071,194.7 1070,194.2 1069,193.5 1068,194.2 1067,194.5 1066,194.6 1065,194.4 1064,194.4 1063,194.5 1062,194.5 1061,194.4 1060,194.7 1059,194.7 1058,194.7 1057,194.8 1056,194.8 1055,194.6 1054,194.6 1053,194.5 1052,194.1 1051,193.8 1050,193.3 1049,193.4 1048,193.5 1047,193.5 1046,193.7 1045,194.2 1044,194.9 1043,195.2 1042,195.2 1041,195.1 1040,195.2 1039,195.0 1038,194.8 1037,195.0 1036,194.9 1035,194.6 1034,196.6 1033,198.0 1032,198.7 1031,199.0 1030,199.1 1029,200.0 1028,201.5 1027,202.1 1026,202.6 1025,203.6 1024,204.0 1023,204.6 1022,205.2 1021,205.8 1020,206.1 1019,206.7 1018,209.4 1017,210.9 1016,211.5 1015,211.8 1014,212.8 1013,214.5 1012,215.9 1011,216.6 1010,218.5 1009,220.0 1008,220.9 1007,223.2 1006,224.1 1005,225.0 1004,226.4 1003,227.5 1002,230.4 1001,231.3 1000,232.2 999,234.1 998,236.9 997,237.8 996,239.0 995,241.1 994,242.5 993,245.3 992,246.3 991,247.6 990,249.2 989,251.1 988,253.2 987,254.3 986,256.1 985,257.5 984,259.4 983,260.5 982,261.7 981,264.1 980,266.3 979,267.6 978,269.6 977,270.5 976,272.3 975,274.3 974,275.6 973,278.0 972,279.8 971,280.8 970,283.2 969,285.0 968,286.4 967,287.7 966,288.4 965,289.8 964,293.6 963,294.5 962,295.8 961,297.3 960,298.9 959,300.3 958,302.3 957,303.7 956,305.9 955,307.8 954,308.8 953,311.0 952,312.4 951,315.2 950,316.1 949,319.1 948,320.1 947,320.6 946,323.0 945,323.9 944,327.3 943,328.7 942,329.4 941,330.4 940,331.9 939,333.7 938,335.1 937,336.5 936,338.4 935,339.3 934,341.1 933,343.7 932,344.6 931,345.2 930,346.1 929,348.8 928,349.8 927,350.2 926,352.1 925,353.1 924,354.4 923,355.8 922,356.5 921,357.5 920,358.9 919,359.6 918,360.5 917,361.7 916,362.6 915,364.0 914,367.0 913,368.2 912,369.2 911,369.7 910,370.1 909,370.8 908,371.1 907,372.1 906,373.1 905,374.5 904,375.7 903,376.6 902,377.5 901,378.4 900,379.2 899,381.0 898,381.9 897,383.0 896,383.6 895,385.9 894,387.3 893,388.5 892,389.2 891,390.6 890,391.3 889,391.8 888,392.9 887,394.4 886,395.4 885,395.8 884,397.1 883,397.8 882,399.0 881,400.3 880,401.7 879,403.7 878,405.2 877,405.8 876,406.7 875,407.6 874,408.1 873,408.3 872,409.3 871,411.2 870,412.1 869,412.6 868,413.1 867,413.9 866,414.4 865,415.4 864,416.8 863,417.5 862,418.0 861,418.7 860,419.8 859,421.2 858,421.9 857,422.2 856,422.3 855,423.8 854,424.7 853,425.6 852,426.6 851,427.5 850,428.5 849,428.9 848,429.5 847,430.4 846,430.9 845,431.9 844,432.5 843,432.9 842,433.5 841,435.0 840,435.6 839,436.0 838,437.3 837,438.0 836,438.3 835,438.4 834,438.8 833,440.2 832,441.1 831,441.8 830,442.1 829,442.6 828,444.0 827,444.8 826,445.5 825,445.8 824,446.1 823,447.5 822,448.2 821,448.5 820,449.0 819,450.2 818,451.6 817,452.6 816,453.1 815,453.2 814,453.9 813,455.5 812,456.5 811,458.7 810,459.7 809,460.1 808,460.4 807,461.4 806,461.8 805,462.0 804,461.9 803,462.2 802,463.6 801,464.3 800,464.6 799,465.6 798,466.2 797,466.6 796,468.5 795,469.9 794,470.6 793,470.9 792,471.8 791,472.7 790,473.2 789,473.4 788,473.8 787,474.7 786,475.2 785,475.3 784,475.8 783,475.9 782,476.7 781,477.3 780,477.6 779,478.5 778,479.1 777,479.5 776,479.5 775,482.1 774,483.6 773,484.2 772,484.6 771,484.6 770,485.0 769,485.7 768,487.3 767,488.2 766,488.7 765,488.9 764,488.8 763,491.6 762,492.6 761,493.0 760,493.2 759,493.6 758,493.8 757,493.7 756,493.5 755,493.9 754,494.6 753,495.1 752,495.3 751,496.6 750,497.2 749,497.5 748,497.9 747,498.9 746,499.3 745,499.5 744,499.4 743,499.4 742,503.4 741,504.3 740,504.8 739,505.0 738,504.9 737,505.0 736,505.0 735,505.0 734,505.7 733,506.0 732,506.1 731,506.2 730,507.6 729,508.6 728,509.5 727,510.0 726,510.2 725,510.1 724,510.6 723,510.8 722,510.7 721,511.1 720,511.3 719,516.3 718,517.2 717,517.7 716,517.9 715,517.8 714,517.5 713,517.2 712,517.7 711,518.0 710,518.3 709,520.1 708,521.5 707,522.2 706,522.5 705,522.7 704,523.3 703,523.7 702,523.7 701,523.6 700,524.9 699,525.5 698,525.9 697,525.9 696,525.7 695,528.1 694,529.5 693,530.2 692,530.5 691,530.5 690,530.8 689,531.7 688,532.2 687,532.3 686,532.3 685,532.4 684,533.6 683,534.5 682,535.0 681,535.2 680,535.1 679,535.1 678,536.0 677,536.5 676,536.7 675,537.2 674,538.1 673,538.6 672,538.8 671,538.8 670,539.4 669,539.8 668,539.8 667,540.2 666,541.2 665,541.7 664,542.0 663,542.2 662,542.1 661,542.2 660,543.6 659,544.3 658,544.6 657,544.7 656,545.3 655,546.3 654,546.8 653,546.9 652,546.9 651,546.5 650,546.4 649,546.7 648,546.7 647,546.5 646,546.5 645,547.4 644,548.8 643,549.8 642,550.3 641,550.4 640,550.4 639,550.0 638,549.7 637,550.8 636,551.4 635,551.8 634,552.2 633,552.3 632,553.1 631,553.7 630,554.1 629,554.1 628,553.9 627,554.4 626,555.8 625,556.5 624,556.8 623,556.8 622,556.6 621,556.1 620,556.1 619,556.2 618,556.4 617,556.7 616,556.7 615,556.5 614,556.0 613,557.1 612,557.7 611,558.0 610,558.1 609,557.9 608,558.2 607,558.2 606,559.0 605,559.4 604,560.1 603,561.0 602,562.5 601,563.1 600,563.5 599,563.5 598,563.3 597,563.8 596,564.1 595,564.1 594,564.1 593,564.2 592,564.2 591,563.8 590,563.5 589,563.9 588,564.9 587,565.3 586,565.6 585,565.7 584,566.2 583,566.4 582,567.4 581,567.8 580,568.0 579,567.9 578,567.6 577,566.9 576,566.0 575,566.0 574,566.2 573,566.5 572,567.0 571,567.1 570,567.5 569,568.0 568,568.1 567,568.1 566,567.7 565,567.1 564,566.9 563,567.9 562,568.6 561,568.9 560,568.9 559,568.7 558,568.9 557,569.0 556,569.0 555,569.3 554,569.5 553,569.7 552,570.4 551,571.1 550,571.9 549,572.6 548,572.9 547,573.0 546,572.8 545,572.2 544,571.3 543,571.3 542,571.1 541,570.6 540,571.5 539,572.2 538,572.5 537,572.6 536,572.4 535,572.3 534,572.8 533,573.3 532,573.6 531,574.1 530,574.2 529,574.2 528,573.8 527,573.8 526,574.1 525,574.2 524,574.0 523,573.5 522,572.7 521,573.6 520,574.6 519,575.1 518,575.2 517,575.6 516,575.9 515,575.9 514,575.7 513,575.2 512,574.6 511,574.8 510,575.3 509,575.4 508,575.4 507,575.3 506,575.8 505,575.9 504,575.9 503,575.5 502,574.8 501,575.0 500,575.4 499,576.2 498,576.7 497,576.9 496,576.8 495,576.4 494,576.3 493,576.5 492,577.2 491,578.3 490,578.9 489,579.3 488,579.3 487,579.1 486,578.6 485,577.6 484,577.3 483,577.0 482,576.4 481,580.0 480,580.9 479,581.4 478,581.6 477,581.5 476,581.1 475,580.4 474,578.8 473,578.3 472,579.3 471,579.7 470,579.9 469,579.8 468,579.5 467,579.9 466,580.3 465,580.5 464,580.5 463,580.1 462,580.7 461,581.3 460,581.6 459,581.7 458,581.5 457,581.0 456,580.0 455,580.2 454,580.3 453,580.3 452,579.9 451,579.9 450,580.5 449,580.8 448,580.9 447,580.7 446,580.5 445,580.7 444,580.6 443,580.3 442,580.8 441,581.0 440,581.4 439,581.6 438,581.5 437,581.7 436,582.1 435,582.1 434,581.9 433,581.5 432,582.4 431,582.9 430,583.1 429,583.0 428,582.7 427,582.6 426,583.1 425,583.3 424,583.2 423,582.8 422,582.2 421,582.4 420,583.3 419,583.7 418,583.9 417,583.8 416,583.5 415,583.4 414,583.5 413,584.3 412,584.8 411,585.0 410,584.9 409,585.2 408,585.9 407,586.2 406,586.3 405,586.0 404,585.5 403,584.5 402,584.1 401,583.6 400,583.2 399,583.3 398,583.3 397,584.7 396,586.2 395,587.1 394,587.6 393,587.8 392,587.7 391,587.4 390,586.8 389,586.7 388,586.7 387,588.7 386,590.1 385,590.8 384,591.1 383,591.2 382,591.0 381,590.5 380,589.5 379,587.5 378,587.5 377,587.3 376,586.8 375,586.4 374,586.9 373,587.1 372,587.0 371,586.7 370,586.2 369,586.2 368,585.8 367,585.9 366,586.8 365,587.3 364,587.4 363,587.4 362,587.0 361,586.8 360,587.4 359,587.7 358,588.5 357,589.0 356,589.2 355,589.1 354,589.1 353,589.2 352,588.9 351,590.7 350,591.6 349,592.1 348,592.3 347,592.2 346,591.9 345,591.2 344,589.6 343,588.7 342,589.7 341,590.2 340,590.3 339,590.6 338,590.6 337,590.4 336,590.2 335,591.6 334,592.3 333,592.6 332,592.6 331,592.4 330,592.0 329,591.6 328,590.9 327,590.4 326,589.6 325,590.0 324,591.4 323,592.1 322,592.4 321,592.5 320,592.3 319,592.1 318,592.3 317,592.2 316,591.9 315,591.2 314,590.3 313,590.6 312,591.1 311,591.3 310,591.2 309,591.1 308,591.3 307,591.4 306,591.2 305,590.7 304,591.3 303,591.6 302,591.7 301,591.5 300,591.0 299,590.9 298,590.8 297,591.8 296,592.2 295,592.4 294,592.3 293,592.0 292,591.5 291,591.4 290,591.5 289,591.6 288,591.8 287,591.7 286,591.4 285,590.6 284,589.0 283,587.8Z"/>
</g>
<path fill="#000" d="M1231.8,504.3 H1246.4 L1243.6,516.5 V528.3 H1237.9 V516.5 Z"/>
</g>
</svg>
</body>
</html>
